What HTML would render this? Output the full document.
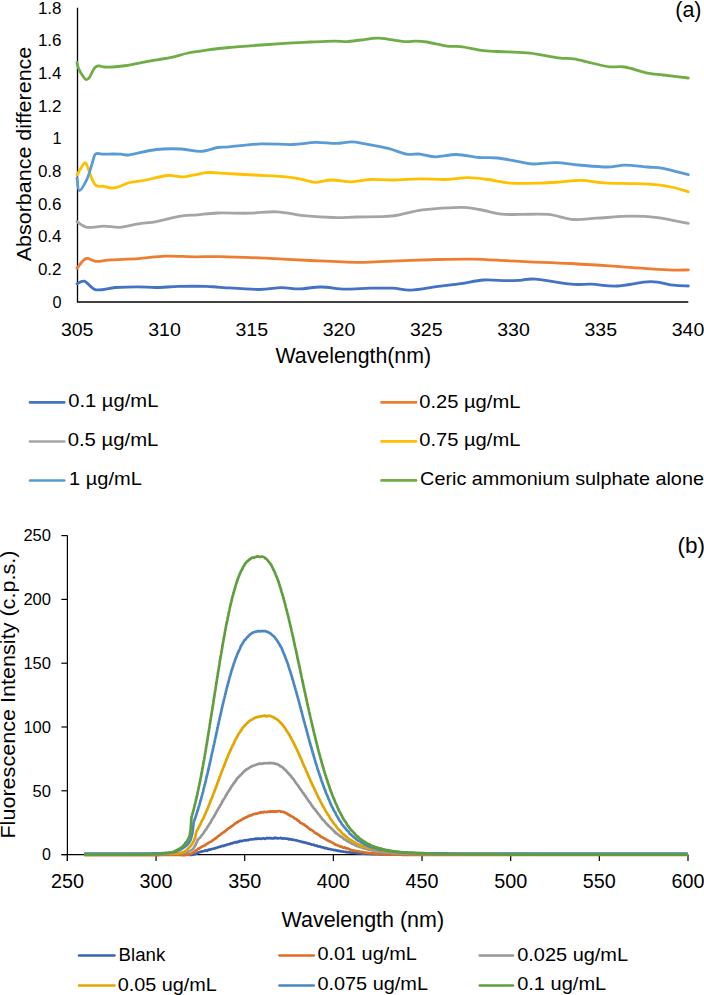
<!DOCTYPE html>
<html><head><meta charset="utf-8"><title>Absorbance and fluorescence spectra</title>
<style>
html,body{margin:0;padding:0;background:#fff;}
body{width:704px;height:995px;overflow:hidden;}
svg{display:block;}
text{font-family:"Liberation Sans", sans-serif;fill:#000;}
</style></head>
<body>
<svg width="704" height="995" viewBox="0 0 704 995">
<rect width="704" height="995" fill="#fff"/>
<line x1="77.50" y1="7.80" x2="77.50" y2="302.00" stroke="#000" stroke-width="1.3"/>
<line x1="76.90" y1="302.00" x2="688.30" y2="302.00" stroke="#000" stroke-width="1.3"/>
<path d="M77.00 283.60 C78.30 283.23 81.62 280.37 84.80 281.40 C87.98 282.43 90.98 288.78 96.10 289.80 C101.22 290.82 108.48 288.00 115.50 287.50 C122.52 287.00 131.38 286.80 138.20 286.80 C145.02 286.80 149.60 287.57 156.40 287.50 C163.20 287.43 170.67 286.58 179.00 286.40 C187.33 286.22 199.57 286.25 206.40 286.40 C213.23 286.55 211.30 286.78 220.00 287.30 C228.70 287.82 248.37 289.43 258.60 289.50 C268.83 289.57 274.58 287.80 281.40 287.70 C288.22 287.60 292.88 289.02 299.50 288.90 C306.12 288.78 313.52 286.97 321.10 287.00 C328.68 287.03 336.85 288.90 345.00 289.10 C353.15 289.30 362.05 288.35 370.00 288.20 C377.95 288.05 385.88 287.87 392.70 288.20 C399.52 288.53 403.32 290.50 410.90 290.20 C418.48 289.90 429.87 287.50 438.20 286.40 C446.53 285.30 453.33 284.67 460.90 283.60 C468.47 282.53 476.02 280.48 483.60 280.00 C491.18 279.52 500.33 280.65 506.40 280.70 C512.47 280.75 515.18 280.57 520.00 280.30 C524.82 280.03 526.78 278.45 535.30 279.10 C543.82 279.75 561.72 283.35 571.10 284.20 C580.48 285.05 583.92 283.90 591.60 284.20 C599.28 284.50 607.40 286.43 617.20 286.00 C627.00 285.57 641.03 281.73 650.40 281.60 C659.77 281.47 667.08 284.47 673.40 285.20 C679.72 285.93 685.82 285.87 688.30 286.00" fill="none" stroke="#4472C4" stroke-width="2.8" stroke-linejoin="round" stroke-linecap="round"/>
<path d="M77.00 268.20 C78.48 266.60 82.72 259.73 85.90 258.60 C89.08 257.47 91.92 261.20 96.10 261.40 C100.28 261.60 103.98 260.27 111.00 259.80 C118.02 259.33 129.12 259.22 138.20 258.60 C147.28 257.98 156.03 256.40 165.50 256.10 C174.97 255.80 185.92 256.72 195.00 256.80 C204.08 256.88 208.25 256.37 220.00 256.60 C231.75 256.83 250.35 257.55 265.50 258.20 C280.65 258.85 295.75 259.82 310.90 260.50 C326.05 261.18 344.88 262.12 356.40 262.30 C367.92 262.48 366.37 262.07 380.00 261.60 C393.63 261.13 422.82 259.92 438.20 259.50 C453.58 259.08 460.93 258.90 472.30 259.10 C483.67 259.30 496.95 260.25 506.40 260.70 C515.85 261.15 518.22 261.33 529.00 261.80 C539.78 262.27 555.55 262.67 571.10 263.50 C586.65 264.33 606.10 265.73 622.30 266.80 C638.50 267.87 657.30 269.38 668.30 269.90 C679.30 270.42 684.97 269.90 688.30 269.90" fill="none" stroke="#ED7D31" stroke-width="2.8" stroke-linejoin="round" stroke-linecap="round"/>
<path d="M77.00 221.60 C78.67 222.55 82.50 226.55 87.00 227.30 C91.50 228.05 98.50 226.10 104.00 226.10 C109.50 226.10 114.30 227.67 120.00 227.30 C125.70 226.93 132.13 224.85 138.20 223.90 C144.27 222.95 149.60 222.85 156.40 221.60 C163.20 220.35 172.18 217.53 179.00 216.40 C185.82 215.27 190.85 215.37 197.30 214.80 C203.75 214.23 209.00 213.27 217.70 213.00 C226.40 212.73 239.65 213.40 249.50 213.20 C259.35 213.00 267.32 211.35 276.80 211.80 C286.28 212.25 296.93 214.95 306.40 215.90 C315.87 216.85 325.27 217.32 333.60 217.50 C341.93 217.68 346.55 217.27 356.40 217.00 C366.25 216.73 381.72 217.10 392.70 215.90 C403.68 214.70 410.93 211.23 422.30 209.80 C433.67 208.37 451.45 207.35 460.90 207.30 C470.35 207.25 472.18 208.37 479.00 209.50 C485.82 210.63 494.97 213.28 501.80 214.10 C508.63 214.92 512.28 214.35 520.00 214.40 C527.72 214.45 539.15 213.55 548.10 214.40 C557.05 215.25 565.60 218.87 573.70 219.50 C581.80 220.13 587.32 218.75 596.70 218.20 C606.08 217.65 620.20 216.33 630.00 216.20 C639.80 216.07 645.78 216.22 655.50 217.40 C665.22 218.58 682.83 222.32 688.30 223.30" fill="none" stroke="#A5A5A5" stroke-width="2.8" stroke-linejoin="round" stroke-linecap="round"/>
<path d="M77.00 175.00 C78.25 172.98 82.62 163.92 84.50 162.90 C86.38 161.88 87.17 166.48 88.30 168.90 C89.43 171.32 90.23 174.85 91.30 177.40 C92.37 179.95 93.57 182.72 94.70 184.20 C95.83 185.68 96.53 185.95 98.10 186.30 C99.67 186.65 101.97 186.02 104.10 186.30 C106.23 186.58 108.63 187.85 110.90 188.00 C113.17 188.15 114.57 188.12 117.70 187.20 C120.83 186.28 125.53 183.58 129.70 182.50 C133.87 181.42 136.37 181.87 142.70 180.70 C149.03 179.53 160.88 176.15 167.70 175.50 C174.52 174.85 177.15 177.27 183.60 176.80 C190.05 176.33 200.33 173.30 206.40 172.70 C212.47 172.10 212.07 172.82 220.00 173.20 C227.93 173.58 243.40 174.43 254.00 175.00 C264.60 175.57 276.02 175.95 283.60 176.60 C291.18 177.25 294.18 177.95 299.50 178.90 C304.82 179.85 310.18 182.12 315.50 182.30 C320.82 182.48 325.35 180.08 331.40 180.00 C337.45 179.92 345.37 181.88 351.80 181.80 C358.23 181.72 363.18 179.80 370.00 179.50 C376.82 179.20 384.37 180.10 392.70 180.00 C401.03 179.90 411.28 178.98 420.00 178.90 C428.72 178.82 437.05 179.70 445.00 179.50 C452.95 179.30 460.50 177.70 467.70 177.70 C474.90 177.70 481.00 178.58 488.20 179.50 C495.40 180.42 502.18 182.60 510.90 183.20 C519.62 183.80 532.17 183.32 540.50 183.10 C548.83 182.88 554.08 182.37 560.90 181.90 C567.72 181.43 574.15 180.13 581.40 180.30 C588.65 180.47 595.88 182.35 604.40 182.90 C612.92 183.45 623.57 183.27 632.50 183.60 C641.43 183.93 651.18 184.25 658.00 184.90 C664.82 185.55 668.35 186.35 673.40 187.50 C678.45 188.65 685.82 191.08 688.30 191.80" fill="none" stroke="#FFC000" stroke-width="2.8" stroke-linejoin="round" stroke-linecap="round"/>
<path d="M77.00 178.00 C77.40 180.10 77.73 190.42 79.40 190.60 C81.07 190.78 85.02 183.15 87.00 179.10 C88.98 175.05 90.02 170.28 91.30 166.30 C92.58 162.32 93.70 157.33 94.70 155.20 C95.70 153.07 95.73 153.67 97.30 153.50 C98.87 153.33 101.55 154.12 104.10 154.20 C106.65 154.28 109.75 154.00 112.60 154.00 C115.45 154.00 118.35 154.07 121.20 154.20 C124.05 154.33 123.83 155.58 129.70 154.80 C135.57 154.02 147.78 150.47 156.40 149.50 C165.02 148.53 174.02 148.68 181.40 149.00 C188.78 149.32 194.65 151.65 200.70 151.40 C206.75 151.15 212.98 148.27 217.70 147.50 C222.42 146.73 221.80 147.40 229.00 146.80 C236.20 146.20 250.28 144.28 260.90 143.90 C271.52 143.52 283.60 144.77 292.70 144.50 C301.80 144.23 308.30 142.48 315.50 142.30 C322.70 142.12 329.85 143.48 335.90 143.40 C341.95 143.32 346.87 141.72 351.80 141.80 C356.73 141.88 359.43 142.80 365.50 143.90 C371.57 145.00 381.38 146.70 388.20 148.40 C395.02 150.10 401.10 153.15 406.40 154.10 C411.70 155.05 415.08 153.65 420.00 154.10 C424.92 154.55 429.83 156.73 435.90 156.80 C441.97 156.87 449.20 154.38 456.40 154.50 C463.60 154.62 472.28 156.92 479.10 157.50 C485.92 158.08 490.48 157.27 497.30 158.00 C504.12 158.73 514.08 160.90 520.00 161.90 C525.92 162.90 526.83 163.87 532.80 164.00 C538.77 164.13 548.13 162.53 555.80 162.70 C563.47 162.87 570.28 164.28 578.80 165.00 C587.32 165.72 599.23 166.97 606.90 167.00 C614.57 167.03 617.98 165.20 624.80 165.20 C631.62 165.20 641.40 166.48 647.80 167.00 C654.20 167.52 656.45 167.02 663.20 168.30 C669.95 169.58 684.12 173.63 688.30 174.70" fill="none" stroke="#5B9BD5" stroke-width="2.8" stroke-linejoin="round" stroke-linecap="round"/>
<path d="M77.00 62.50 C77.27 63.50 77.63 66.25 78.60 68.50 C79.57 70.75 81.53 74.15 82.80 76.00 C84.07 77.85 85.08 79.38 86.20 79.60 C87.32 79.82 88.45 78.65 89.50 77.30 C90.55 75.95 91.58 73.12 92.50 71.50 C93.42 69.88 94.08 68.53 95.00 67.60 C95.92 66.67 97.00 66.12 98.00 65.90 C99.00 65.68 99.98 66.12 101.00 66.30 C102.02 66.48 102.17 66.88 104.10 67.00 C106.03 67.12 108.82 67.25 112.60 67.00 C116.38 66.75 120.65 66.48 126.80 65.50 C132.95 64.52 142.30 62.40 149.50 61.10 C156.70 59.80 163.55 59.05 170.00 57.70 C176.45 56.35 182.13 54.25 188.20 53.00 C194.27 51.75 199.60 51.12 206.40 50.20 C213.20 49.28 219.92 48.37 229.00 47.50 C238.08 46.63 251.03 45.72 260.90 45.00 C270.77 44.28 279.87 43.70 288.20 43.20 C296.53 42.70 303.33 42.35 310.90 42.00 C318.47 41.65 327.53 41.17 333.60 41.10 C339.67 41.03 342.75 41.78 347.30 41.60 C351.85 41.42 355.60 40.57 360.90 40.00 C366.20 39.43 371.90 37.93 379.10 38.20 C386.30 38.47 398.03 41.12 404.10 41.60 C410.17 42.08 411.72 41.03 415.50 41.10 C419.28 41.17 421.50 41.17 426.80 42.00 C432.10 42.83 441.62 45.33 447.30 46.10 C452.98 46.87 454.85 45.83 460.90 46.60 C466.95 47.37 476.02 49.83 483.60 50.70 C491.18 51.57 498.63 51.38 506.40 51.80 C514.17 52.22 521.53 52.20 530.20 53.20 C538.87 54.20 551.15 56.85 558.40 57.80 C565.65 58.75 568.17 58.03 573.70 58.90 C579.23 59.77 585.63 61.68 591.60 63.00 C597.57 64.32 603.97 66.13 609.50 66.80 C615.03 67.47 618.42 65.93 624.80 67.00 C631.18 68.07 641.40 71.87 647.80 73.20 C654.20 74.53 656.45 74.20 663.20 75.00 C669.95 75.80 684.12 77.50 688.30 78.00" fill="none" stroke="#70AD47" stroke-width="2.8" stroke-linejoin="round" stroke-linecap="round"/>
<text x="61.50" y="307.80" font-size="16.30" text-anchor="end" >0</text>
<text x="61.50" y="275.11" font-size="16.30" text-anchor="end" textLength="23.6" lengthAdjust="spacingAndGlyphs">0.2</text>
<text x="61.50" y="242.42" font-size="16.30" text-anchor="end" textLength="23.6" lengthAdjust="spacingAndGlyphs">0.4</text>
<text x="61.50" y="209.73" font-size="16.30" text-anchor="end" textLength="23.6" lengthAdjust="spacingAndGlyphs">0.6</text>
<text x="61.50" y="177.04" font-size="16.30" text-anchor="end" textLength="23.6" lengthAdjust="spacingAndGlyphs">0.8</text>
<text x="61.50" y="144.36" font-size="16.30" text-anchor="end" >1</text>
<text x="61.50" y="111.67" font-size="16.30" text-anchor="end" textLength="23.6" lengthAdjust="spacingAndGlyphs">1.2</text>
<text x="61.50" y="78.98" font-size="16.30" text-anchor="end" textLength="23.6" lengthAdjust="spacingAndGlyphs">1.4</text>
<text x="61.50" y="46.29" font-size="16.30" text-anchor="end" textLength="23.6" lengthAdjust="spacingAndGlyphs">1.6</text>
<text x="61.50" y="13.60" font-size="16.30" text-anchor="end" textLength="23.6" lengthAdjust="spacingAndGlyphs">1.8</text>
<text x="77.20" y="335.60" font-size="18.80" text-anchor="middle" textLength="32.6" lengthAdjust="spacingAndGlyphs">305</text>
<text x="164.46" y="335.60" font-size="18.80" text-anchor="middle" textLength="32.6" lengthAdjust="spacingAndGlyphs">310</text>
<text x="251.71" y="335.60" font-size="18.80" text-anchor="middle" textLength="32.6" lengthAdjust="spacingAndGlyphs">315</text>
<text x="338.97" y="335.60" font-size="18.80" text-anchor="middle" textLength="32.6" lengthAdjust="spacingAndGlyphs">320</text>
<text x="426.23" y="335.60" font-size="18.80" text-anchor="middle" textLength="32.6" lengthAdjust="spacingAndGlyphs">325</text>
<text x="513.49" y="335.60" font-size="18.80" text-anchor="middle" textLength="32.6" lengthAdjust="spacingAndGlyphs">330</text>
<text x="600.74" y="335.60" font-size="18.80" text-anchor="middle" textLength="32.6" lengthAdjust="spacingAndGlyphs">335</text>
<text x="688.00" y="335.60" font-size="18.80" text-anchor="middle" textLength="32.6" lengthAdjust="spacingAndGlyphs">340</text>
<text x="353.30" y="362.60" font-size="21.80" text-anchor="middle" textLength="155.5" lengthAdjust="spacingAndGlyphs">Wavelength(nm)</text>
<text transform="translate(31.4 154) rotate(-90)" x="0" y="0" font-size="21" text-anchor="middle" textLength="214.5" lengthAdjust="spacingAndGlyphs">Absorbance difference</text>
<text x="675.30" y="16.60" font-size="22.50" text-anchor="start" textLength="26.2" lengthAdjust="spacingAndGlyphs">(a)</text>
<line x1="30.00" y1="402.40" x2="64.30" y2="402.40" stroke="#4472C4" stroke-width="2.6" stroke-linecap="round"/>
<text x="68.20" y="407.20" font-size="18.50" text-anchor="start" textLength="90.2" lengthAdjust="spacingAndGlyphs">0.1 µg/mL</text>
<line x1="381.50" y1="402.40" x2="416.00" y2="402.40" stroke="#ED7D31" stroke-width="2.6" stroke-linecap="round"/>
<text x="419.20" y="407.50" font-size="18.50" text-anchor="start" textLength="101.2" lengthAdjust="spacingAndGlyphs">0.25 µg/mL</text>
<line x1="30.00" y1="441.50" x2="64.30" y2="441.50" stroke="#A5A5A5" stroke-width="2.6" stroke-linecap="round"/>
<text x="67.70" y="446.30" font-size="18.50" text-anchor="start" textLength="90.7" lengthAdjust="spacingAndGlyphs">0.5 µg/mL</text>
<line x1="381.50" y1="441.40" x2="416.00" y2="441.40" stroke="#FFC000" stroke-width="2.6" stroke-linecap="round"/>
<text x="419.20" y="446.40" font-size="18.50" text-anchor="start" textLength="101.2" lengthAdjust="spacingAndGlyphs">0.75 µg/mL</text>
<line x1="30.00" y1="480.50" x2="64.30" y2="480.50" stroke="#5B9BD5" stroke-width="2.6" stroke-linecap="round"/>
<text x="69.10" y="485.00" font-size="18.50" text-anchor="start" textLength="72.8" lengthAdjust="spacingAndGlyphs">1 µg/mL</text>
<line x1="381.50" y1="480.40" x2="416.00" y2="480.40" stroke="#70AD47" stroke-width="2.6" stroke-linecap="round"/>
<text x="420.10" y="484.80" font-size="18.50" text-anchor="start" textLength="283.8" lengthAdjust="spacingAndGlyphs">Ceric ammonium sulphate alone</text>
<line x1="67.40" y1="535.60" x2="67.40" y2="861.10" stroke="#000" stroke-width="1.2"/>
<line x1="61.40" y1="854.60" x2="688.00" y2="854.60" stroke="#000" stroke-width="1.2"/>
<line x1="61.40" y1="854.60" x2="67.40" y2="854.60" stroke="#000" stroke-width="1.2"/>
<text x="51.00" y="860.40" font-size="16.00" text-anchor="end" >0</text>
<line x1="61.40" y1="790.80" x2="67.40" y2="790.80" stroke="#000" stroke-width="1.2"/>
<text x="51.00" y="796.60" font-size="16.00" text-anchor="end" textLength="18.4" lengthAdjust="spacingAndGlyphs">50</text>
<line x1="61.40" y1="727.00" x2="67.40" y2="727.00" stroke="#000" stroke-width="1.2"/>
<text x="51.00" y="732.80" font-size="16.00" text-anchor="end" textLength="27.6" lengthAdjust="spacingAndGlyphs">100</text>
<line x1="61.40" y1="663.20" x2="67.40" y2="663.20" stroke="#000" stroke-width="1.2"/>
<text x="51.00" y="669.00" font-size="16.00" text-anchor="end" textLength="27.6" lengthAdjust="spacingAndGlyphs">150</text>
<line x1="61.40" y1="599.40" x2="67.40" y2="599.40" stroke="#000" stroke-width="1.2"/>
<text x="51.00" y="605.20" font-size="16.00" text-anchor="end" textLength="27.6" lengthAdjust="spacingAndGlyphs">200</text>
<line x1="61.40" y1="535.60" x2="67.40" y2="535.60" stroke="#000" stroke-width="1.2"/>
<text x="51.00" y="541.40" font-size="16.00" text-anchor="end" textLength="27.6" lengthAdjust="spacingAndGlyphs">250</text>
<line x1="67.40" y1="854.60" x2="67.40" y2="861.10" stroke="#000" stroke-width="1.2"/>
<text x="67.40" y="888.40" font-size="19.30" text-anchor="middle" textLength="33" lengthAdjust="spacingAndGlyphs">250</text>
<line x1="156.06" y1="854.60" x2="156.06" y2="861.10" stroke="#000" stroke-width="1.2"/>
<text x="156.06" y="888.40" font-size="19.30" text-anchor="middle" textLength="33" lengthAdjust="spacingAndGlyphs">300</text>
<line x1="244.71" y1="854.60" x2="244.71" y2="861.10" stroke="#000" stroke-width="1.2"/>
<text x="244.71" y="888.40" font-size="19.30" text-anchor="middle" textLength="33" lengthAdjust="spacingAndGlyphs">350</text>
<line x1="333.37" y1="854.60" x2="333.37" y2="861.10" stroke="#000" stroke-width="1.2"/>
<text x="333.37" y="888.40" font-size="19.30" text-anchor="middle" textLength="33" lengthAdjust="spacingAndGlyphs">400</text>
<line x1="422.03" y1="854.60" x2="422.03" y2="861.10" stroke="#000" stroke-width="1.2"/>
<text x="422.03" y="888.40" font-size="19.30" text-anchor="middle" textLength="33" lengthAdjust="spacingAndGlyphs">450</text>
<line x1="510.69" y1="854.60" x2="510.69" y2="861.10" stroke="#000" stroke-width="1.2"/>
<text x="510.69" y="888.40" font-size="19.30" text-anchor="middle" textLength="33" lengthAdjust="spacingAndGlyphs">500</text>
<line x1="599.34" y1="854.60" x2="599.34" y2="861.10" stroke="#000" stroke-width="1.2"/>
<text x="599.34" y="888.40" font-size="19.30" text-anchor="middle" textLength="33" lengthAdjust="spacingAndGlyphs">550</text>
<line x1="688.00" y1="854.60" x2="688.00" y2="861.10" stroke="#000" stroke-width="1.2"/>
<text x="688.00" y="888.40" font-size="19.30" text-anchor="middle" textLength="33" lengthAdjust="spacingAndGlyphs">600</text>
<path d="M84.31 854.60 L85.04 854.60 L86.00 854.60 L87.00 854.60 L88.00 854.60 L89.00 854.60 L90.00 854.60 L91.00 854.60 L92.00 854.60 L93.00 854.60 L94.00 854.60 L95.00 854.60 L96.00 854.60 L97.00 854.60 L98.00 854.60 L99.00 854.60 L100.00 854.60 L101.00 854.60 L102.00 854.60 L103.00 854.60 L104.00 854.60 L105.00 854.60 L106.00 854.60 L107.00 854.60 L108.00 854.60 L109.00 854.60 L110.00 854.60 L111.00 854.60 L112.00 854.60 L113.00 854.60 L114.00 854.60 L115.00 854.60 L116.00 854.60 L117.00 854.60 L118.00 854.60 L119.00 854.60 L120.00 854.60 L121.00 854.60 L122.00 854.60 L123.00 854.60 L124.00 854.60 L125.00 854.60 L126.00 854.60 L127.00 854.60 L128.00 854.60 L129.00 854.60 L130.00 854.60 L131.00 854.60 L132.00 854.60 L133.00 854.60 L134.00 854.60 L135.00 854.60 L136.00 854.60 L137.00 854.60 L138.00 854.60 L139.00 854.60 L140.00 854.60 L141.00 854.60 L142.00 854.60 L143.00 854.60 L144.00 854.60 L145.00 854.60 L146.00 854.60 L147.00 854.60 L148.00 854.60 L149.00 854.60 L150.00 854.60 L151.00 854.60 L152.00 854.60 L153.00 854.60 L154.00 854.60 L155.00 854.60 L156.00 854.60 L157.00 854.60 L158.00 854.60 L159.00 854.59 L160.00 854.59 L161.00 854.59 L162.00 854.59 L163.00 854.59 L164.00 854.59 L165.00 854.59 L166.00 854.59 L167.00 854.59 L168.00 854.58 L169.00 854.58 L170.00 854.58 L171.00 854.58 L172.00 854.58 L173.00 854.58 L174.00 854.58 L175.00 854.58 L176.00 854.58 L177.00 854.58 L178.00 854.58 L179.00 854.58 L180.00 854.58 L181.00 854.59 L182.00 854.59 L183.00 854.59 L184.00 854.60 L185.00 854.61 L186.00 854.63 L187.00 854.67 L188.00 854.73 L188.99 854.80 L189.99 854.86 L190.99 854.88 L191.99 854.85 L192.98 854.74 L193.95 854.52 L194.90 854.22 L195.83 853.86 L196.74 853.45 L197.64 853.01 L198.54 852.57 L199.45 852.16 L200.39 851.84 L201.36 851.62 L202.34 851.42 L203.32 851.22 L204.30 851.00 L205.27 850.29 L206.25 850.68 L207.22 850.84 L208.19 849.89 L209.16 849.60 L210.13 849.71 L211.09 849.17 L212.06 848.98 L213.02 848.75 L213.99 848.66 L214.95 848.20 L215.91 848.06 L216.87 847.69 L217.83 847.28 L218.79 847.10 L219.75 846.69 L220.71 846.59 L221.67 846.08 L222.63 845.80 L223.58 846.03 L224.54 845.44 L225.50 845.16 L226.46 844.99 L227.42 844.52 L228.38 844.28 L229.34 844.14 L230.31 843.84 L231.27 843.29 L232.23 843.42 L233.20 842.88 L234.17 842.53 L235.14 842.32 L236.11 842.17 L237.08 842.34 L238.05 841.55 L239.03 841.60 L240.00 840.92 L240.98 841.14 L241.96 841.11 L242.94 840.69 L243.92 840.43 L244.91 840.42 L245.89 840.34 L246.88 840.17 L247.87 840.28 L248.86 839.78 L249.85 839.48 L250.84 839.44 L251.83 839.33 L252.82 839.25 L253.82 839.11 L254.81 839.05 L255.81 838.59 L256.80 839.00 L257.80 838.65 L258.80 838.45 L259.80 838.75 L260.79 838.83 L261.79 838.61 L262.79 838.50 L263.79 838.24 L264.79 838.96 L265.79 838.53 L266.79 838.10 L267.79 838.15 L268.79 838.31 L269.79 837.96 L270.79 838.29 L271.79 838.16 L272.79 838.49 L273.79 838.43 L274.79 837.69 L275.79 838.24 L276.79 837.91 L277.79 838.45 L278.79 838.23 L279.78 838.24 L280.78 837.89 L281.78 838.51 L282.77 838.64 L283.77 838.15 L284.76 838.56 L285.75 838.49 L286.74 838.75 L287.73 838.65 L288.72 839.42 L289.71 839.02 L290.69 839.32 L291.68 839.65 L292.66 839.60 L293.64 839.88 L294.62 840.01 L295.60 840.31 L296.57 840.32 L297.55 840.69 L298.52 840.96 L299.49 841.17 L300.47 841.49 L301.44 841.66 L302.40 842.12 L303.37 842.16 L304.34 842.45 L305.30 842.60 L306.27 842.89 L307.23 843.01 L308.20 843.63 L309.16 843.56 L310.13 843.91 L311.09 844.40 L312.05 844.67 L313.02 844.78 L313.98 844.72 L314.94 845.48 L315.91 845.71 L316.87 845.64 L317.84 846.33 L318.81 846.30 L319.77 846.47 L320.74 846.97 L321.71 847.16 L322.68 847.49 L323.65 847.37 L324.62 848.29 L325.59 848.05 L326.56 848.09 L327.53 848.75 L328.51 848.78 L329.48 849.14 L330.46 849.22 L331.44 849.48 L332.42 849.75 L333.40 849.75 L334.38 850.23 L335.36 850.19 L336.34 850.30 L337.33 850.67 L338.31 850.92 L339.30 850.95 L340.28 851.16 L341.27 851.32 L342.26 851.48 L343.25 851.62 L344.24 851.77 L345.23 851.91 L346.22 852.04 L347.21 852.17 L348.20 852.29 L349.19 852.41 L350.19 852.53 L351.18 852.64 L352.18 852.74 L353.17 852.84 L354.17 852.94 L355.16 853.03 L356.16 853.12 L357.15 853.21 L358.15 853.29 L359.15 853.36 L360.15 853.44 L361.14 853.50 L362.14 853.57 L363.14 853.63 L364.14 853.69 L365.14 853.75 L366.13 853.80 L367.13 853.85 L368.13 853.90 L369.13 853.95 L370.13 853.99 L371.13 854.03 L372.13 854.07 L373.13 854.10 L374.13 854.14 L375.13 854.17 L376.13 854.20 L377.13 854.23 L378.13 854.25 L379.13 854.28 L380.13 854.30 L381.12 854.32 L382.12 854.34 L383.12 854.36 L384.12 854.38 L385.12 854.39 L386.12 854.41 L387.12 854.42 L388.12 854.44 L389.12 854.45 L390.12 854.46 L391.12 854.47 L392.12 854.48 L393.12 854.49 L394.12 854.50 L395.12 854.51 L396.12 854.52 L397.12 854.52 L398.12 854.53 L399.12 854.53 L400.12 854.54 L401.12 854.55 L402.12 854.55 L403.12 854.55 L404.12 854.56 L405.12 854.56 L406.12 854.57 L407.12 854.57 L408.12 854.57 L409.12 854.57 L410.12 854.58 L411.12 854.58 L412.12 854.58 L413.12 854.58 L414.12 854.58 L415.12 854.58 L416.12 854.59 L417.12 854.59 L418.12 854.59 L419.12 854.59 L420.12 854.59 L421.12 854.59 L422.12 854.59 L423.12 854.59 L424.12 854.59 L425.12 854.59 L426.12 854.60 L427.12 854.60 L428.12 854.60 L429.12 854.60 L430.12 854.60 L431.12 854.60 L432.12 854.60 L433.12 854.60 L434.12 854.60 L435.12 854.60 L436.12 854.60 L437.12 854.60 L438.12 854.60 L439.12 854.60 L440.12 854.60 L441.12 854.60 L442.12 854.60 L443.12 854.60 L444.12 854.60 L445.12 854.60 L446.12 854.60 L447.12 854.60 L448.12 854.60 L449.12 854.60 L450.12 854.60 L451.12 854.60 L452.12 854.60 L453.12 854.60 L454.12 854.60 L455.12 854.60 L456.12 854.60 L457.12 854.60 L458.12 854.60 L459.12 854.60 L460.12 854.60 L461.12 854.60 L462.12 854.60 L463.12 854.60 L464.12 854.60 L465.12 854.60 L466.12 854.60 L467.12 854.60 L468.12 854.60 L469.12 854.60 L470.12 854.60 L471.12 854.60 L472.12 854.60 L473.12 854.60 L474.12 854.60 L475.12 854.60 L476.12 854.60 L477.12 854.60 L478.12 854.60 L479.12 854.60 L480.12 854.60 L481.12 854.60 L482.12 854.60 L483.12 854.60 L484.12 854.60 L485.12 854.60 L486.12 854.60 L487.12 854.60 L488.12 854.60 L489.12 854.60 L490.12 854.60 L491.12 854.60 L492.12 854.60 L493.12 854.60 L494.12 854.60 L495.12 854.60 L496.12 854.60 L497.12 854.60 L498.12 854.60 L499.12 854.60 L500.12 854.60 L501.12 854.60 L502.12 854.60 L503.12 854.60 L504.12 854.60 L505.12 854.60 L506.12 854.60 L507.12 854.60 L508.12 854.60 L509.12 854.60 L510.12 854.60 L511.12 854.60 L512.12 854.60 L513.12 854.60 L514.12 854.60 L515.12 854.60 L516.12 854.60 L517.12 854.60 L518.12 854.60 L519.12 854.60 L520.12 854.60 L521.12 854.60 L522.12 854.60 L523.12 854.60 L524.12 854.60 L525.12 854.60 L526.12 854.60 L527.12 854.60 L528.12 854.60 L529.12 854.60 L530.12 854.60 L531.12 854.60 L532.12 854.60 L533.12 854.60 L534.12 854.60 L535.12 854.60 L536.12 854.60 L537.12 854.60 L538.12 854.60 L539.12 854.60 L540.12 854.60 L541.12 854.60 L542.12 854.60 L543.12 854.60 L544.12 854.60 L545.12 854.60 L546.12 854.60 L547.12 854.60 L548.12 854.60 L549.12 854.60 L550.12 854.60 L551.12 854.60 L552.12 854.60 L553.12 854.60 L554.12 854.60 L555.12 854.60 L556.12 854.60 L557.12 854.60 L558.12 854.60 L559.12 854.60 L560.12 854.60 L561.12 854.60 L562.12 854.60 L563.12 854.60 L564.12 854.60 L565.12 854.60 L566.12 854.60 L567.12 854.60 L568.12 854.60 L569.12 854.60 L570.12 854.60 L571.12 854.60 L572.12 854.60 L573.12 854.60 L574.12 854.60 L575.12 854.60 L576.12 854.60 L577.12 854.60 L578.12 854.60 L579.12 854.60 L580.12 854.60 L581.12 854.60 L582.12 854.60 L583.12 854.60 L584.12 854.60 L585.12 854.60 L586.12 854.60 L587.12 854.60 L588.12 854.60 L589.12 854.60 L590.12 854.60 L591.12 854.60 L592.12 854.60 L593.12 854.60 L594.12 854.60 L595.12 854.60 L596.12 854.60 L597.12 854.60 L598.12 854.60 L599.12 854.60 L600.12 854.60 L601.12 854.60 L602.12 854.60 L603.12 854.60 L604.12 854.60 L605.12 854.60 L606.12 854.60 L607.12 854.60 L608.12 854.60 L609.12 854.60 L610.12 854.60 L611.12 854.60 L612.12 854.60 L613.12 854.60 L614.12 854.60 L615.12 854.60 L616.12 854.60 L617.12 854.60 L618.12 854.60 L619.12 854.60 L620.12 854.60 L621.12 854.60 L622.12 854.60 L623.12 854.60 L624.12 854.60 L625.12 854.60 L626.12 854.60 L627.12 854.60 L628.12 854.60 L629.12 854.60 L630.12 854.60 L631.12 854.60 L632.12 854.60 L633.12 854.60 L634.12 854.60 L635.12 854.60 L636.12 854.60 L637.12 854.60 L638.12 854.60 L639.12 854.60 L640.12 854.60 L641.12 854.60 L642.12 854.60 L643.12 854.60 L644.12 854.60 L645.12 854.60 L646.12 854.60 L647.12 854.60 L648.12 854.60 L649.12 854.60 L650.12 854.60 L651.12 854.60 L652.12 854.60 L653.12 854.60 L654.12 854.60 L655.12 854.60 L656.12 854.60 L657.12 854.60 L658.12 854.60 L659.12 854.60 L660.12 854.60 L661.12 854.60 L662.12 854.60 L663.12 854.60 L664.12 854.60 L665.12 854.60 L666.12 854.60 L667.12 854.60 L668.12 854.60 L669.12 854.60 L670.12 854.60 L671.12 854.60 L672.12 854.60 L673.12 854.60 L674.12 854.60 L675.12 854.60 L676.12 854.60 L677.12 854.60 L678.12 854.60 L679.12 854.60 L680.12 854.60 L681.12 854.60 L682.12 854.60 L683.12 854.60 L684.12 854.60 L685.12 854.60 L686.12 854.60 L687.07 854.60 L687.74 854.60" fill="none" stroke="#3A63B3" stroke-width="2.7" stroke-linejoin="round"/>
<path d="M84.31 855.20 L85.04 855.20 L86.00 855.20 L87.00 855.20 L88.00 855.19 L89.00 855.19 L90.00 855.19 L91.00 855.19 L92.00 855.19 L93.00 855.19 L94.00 855.19 L95.00 855.19 L96.00 855.19 L97.00 855.18 L98.00 855.18 L99.00 855.18 L100.00 855.18 L101.00 855.18 L102.00 855.18 L103.00 855.18 L104.00 855.18 L105.00 855.18 L106.00 855.18 L107.00 855.18 L108.00 855.18 L109.00 855.17 L110.00 855.17 L111.00 855.17 L112.00 855.17 L113.00 855.17 L114.00 855.17 L115.00 855.17 L116.00 855.17 L117.00 855.17 L118.00 855.17 L119.00 855.17 L120.00 855.16 L121.00 855.16 L122.00 855.16 L123.00 855.16 L124.00 855.16 L125.00 855.16 L126.00 855.16 L127.00 855.16 L128.00 855.15 L129.00 855.15 L130.00 855.15 L131.00 855.15 L132.00 855.15 L133.00 855.15 L134.00 855.15 L135.00 855.14 L136.00 855.14 L137.00 855.14 L138.00 855.14 L139.00 855.14 L140.00 855.13 L141.00 855.13 L142.00 855.13 L143.00 855.12 L144.00 855.12 L145.00 855.12 L146.00 855.12 L147.00 855.11 L148.00 855.11 L149.00 855.10 L150.00 855.10 L151.00 855.10 L152.00 855.09 L153.00 855.08 L154.00 855.08 L155.00 855.07 L156.00 855.06 L157.00 855.06 L158.00 855.05 L159.00 855.04 L160.00 855.03 L161.00 855.02 L162.00 855.01 L163.00 855.00 L164.00 854.99 L165.00 854.98 L166.00 854.97 L167.00 854.96 L168.00 854.95 L169.00 854.95 L170.00 854.94 L171.00 854.93 L172.00 854.92 L173.00 854.91 L174.00 854.91 L175.00 854.90 L176.00 854.90 L177.00 854.90 L178.00 854.91 L179.00 854.93 L180.00 854.96 L181.00 855.01 L181.99 855.07 L182.99 855.12 L183.99 855.14 L184.99 855.11 L185.98 855.02 L186.97 854.86 L187.95 854.65 L188.91 854.40 L189.87 854.11 L190.81 853.77 L191.73 853.39 L192.64 852.97 L193.52 852.50 L194.36 851.96 L195.17 851.38 L195.95 850.36 L196.72 850.29 L197.47 849.42 L198.24 848.62 L199.05 848.57 L199.92 847.92 L200.82 847.34 L201.72 846.74 L202.61 846.42 L203.49 845.93 L204.37 845.63 L205.24 845.16 L206.11 844.37 L206.97 843.88 L207.83 843.37 L208.67 842.67 L209.52 842.29 L210.36 841.85 L211.19 841.45 L212.02 841.02 L212.85 840.03 L213.67 839.73 L214.49 838.96 L215.30 838.88 L216.11 837.87 L216.92 837.39 L217.72 836.51 L218.53 835.94 L219.33 835.54 L220.13 834.82 L220.92 834.36 L221.72 833.38 L222.51 833.22 L223.31 832.30 L224.10 832.21 L224.90 831.20 L225.69 830.88 L226.49 829.77 L227.29 829.53 L228.09 828.67 L228.89 828.15 L229.69 827.65 L230.49 826.99 L231.30 826.52 L232.11 826.03 L232.92 825.43 L233.74 824.70 L234.56 823.88 L235.39 823.43 L236.22 822.99 L237.05 822.06 L237.89 822.09 L238.74 821.36 L239.59 820.83 L240.45 820.55 L241.31 819.99 L242.18 819.41 L243.06 818.68 L243.94 818.47 L244.83 818.02 L245.72 817.33 L246.62 817.28 L247.53 816.76 L248.45 815.86 L249.37 815.89 L250.30 815.24 L251.23 815.37 L252.17 814.97 L253.12 814.26 L254.07 814.01 L255.03 813.92 L256.00 813.58 L256.97 813.69 L257.94 813.30 L258.91 812.88 L259.90 812.86 L260.88 812.16 L261.87 812.46 L262.86 812.43 L263.85 812.09 L264.84 811.87 L265.83 812.02 L266.83 812.22 L267.83 811.79 L268.83 811.47 L269.83 811.93 L270.82 811.23 L271.82 811.67 L272.82 811.43 L273.82 811.72 L274.82 811.36 L275.82 811.79 L276.82 811.57 L277.82 811.13 L278.82 811.01 L279.81 811.28 L280.81 811.63 L281.80 811.53 L282.76 811.76 L283.71 812.02 L284.63 812.59 L285.54 812.94 L286.43 813.37 L287.31 813.59 L288.18 814.51 L289.05 815.05 L289.91 815.03 L290.77 816.27 L291.62 816.48 L292.46 816.77 L293.31 817.02 L294.14 818.08 L294.98 818.61 L295.81 818.93 L296.64 819.25 L297.47 820.39 L298.29 820.62 L299.11 821.21 L299.93 822.45 L300.75 822.88 L301.57 823.22 L302.38 823.52 L303.19 824.33 L304.01 824.32 L304.82 825.39 L305.63 825.80 L306.44 826.28 L307.25 826.80 L308.06 827.81 L308.88 828.30 L309.69 828.90 L310.50 829.62 L311.32 829.86 L312.13 830.36 L312.95 830.82 L313.77 831.68 L314.60 832.47 L315.42 832.86 L316.25 833.57 L317.08 833.77 L317.91 834.46 L318.75 834.95 L319.59 835.40 L320.43 836.56 L321.28 836.89 L322.13 837.10 L322.98 837.62 L323.84 838.27 L324.70 838.51 L325.56 839.38 L326.43 839.53 L327.30 840.21 L328.18 840.55 L329.06 841.14 L329.95 841.43 L330.84 841.84 L331.73 842.41 L332.63 842.91 L333.53 843.42 L334.44 843.91 L335.35 844.62 L336.26 844.88 L337.18 845.06 L338.10 845.64 L339.03 845.73 L339.96 846.53 L340.89 846.71 L341.83 846.67 L342.77 847.43 L343.72 847.77 L344.66 847.39 L345.61 848.09 L346.57 848.44 L347.53 848.44 L348.49 848.90 L349.45 849.19 L350.41 849.74 L351.38 849.95 L352.35 850.66 L353.32 850.29 L354.30 850.83 L355.27 850.83 L356.25 851.02 L357.23 851.22 L358.21 851.42 L359.19 851.60 L360.18 851.78 L361.16 851.95 L362.15 852.11 L363.14 852.26 L364.13 852.41 L365.12 852.55 L366.11 852.69 L367.10 852.81 L368.09 852.94 L369.09 853.05 L370.08 853.16 L371.07 853.27 L372.07 853.37 L373.07 853.46 L374.06 853.55 L375.06 853.64 L376.05 853.72 L377.05 853.80 L378.05 853.87 L379.05 853.94 L380.04 854.00 L381.04 854.06 L382.04 854.12 L383.04 854.18 L384.04 854.23 L385.04 854.28 L386.04 854.32 L387.03 854.37 L388.03 854.41 L389.03 854.45 L390.03 854.48 L391.03 854.52 L392.03 854.55 L393.03 854.58 L394.03 854.61 L395.03 854.63 L396.03 854.66 L397.03 854.68 L398.03 854.70 L399.03 854.73 L400.03 854.74 L401.03 854.76 L402.03 854.78 L403.03 854.79 L404.03 854.81 L405.03 854.82 L406.03 854.84 L407.03 854.85 L408.03 854.86 L409.03 854.87 L410.03 854.88 L411.03 854.89 L412.03 854.90 L413.03 854.90 L414.03 854.91 L415.03 854.92 L416.03 854.92 L417.03 854.93 L418.03 854.94 L419.03 854.94 L420.03 854.94 L421.03 854.95 L422.03 854.95 L423.03 854.96 L424.03 854.96 L425.03 854.96 L426.03 854.97 L427.03 854.97 L428.03 854.97 L429.03 854.97 L430.03 854.98 L431.03 854.98 L432.03 854.98 L433.03 854.98 L434.03 854.98 L435.03 854.98 L436.03 854.99 L437.03 854.99 L438.03 854.99 L439.03 854.99 L440.03 854.99 L441.03 854.99 L442.03 854.99 L443.03 854.99 L444.03 854.99 L445.03 854.99 L446.03 854.99 L447.03 854.99 L448.03 855.00 L449.03 855.00 L450.03 855.00 L451.03 855.00 L452.03 855.00 L453.03 855.00 L454.03 855.00 L455.03 855.00 L456.03 855.00 L457.03 855.00 L458.03 855.00 L459.03 855.00 L460.03 855.00 L461.03 855.00 L462.03 855.00 L463.03 855.00 L464.03 855.00 L465.03 855.00 L466.03 855.00 L467.03 855.00 L468.03 855.00 L469.03 855.00 L470.03 855.00 L471.03 855.00 L472.03 855.00 L473.03 855.00 L474.03 855.00 L475.03 855.00 L476.03 855.00 L477.03 855.00 L478.03 855.00 L479.03 855.00 L480.03 855.00 L481.03 855.00 L482.03 855.00 L483.03 855.00 L484.03 855.00 L485.03 855.00 L486.03 855.00 L487.03 855.00 L488.03 855.00 L489.03 855.00 L490.03 855.00 L491.03 855.00 L492.03 855.00 L493.03 855.00 L494.03 855.00 L495.03 855.00 L496.03 855.00 L497.03 855.00 L498.03 855.00 L499.03 855.00 L500.03 855.00 L501.03 855.00 L502.03 855.00 L503.03 855.00 L504.03 855.00 L505.03 855.00 L506.03 855.00 L507.03 855.00 L508.03 855.00 L509.03 855.00 L510.03 855.00 L511.03 855.00 L512.03 855.00 L513.03 855.00 L514.03 855.00 L515.03 855.00 L516.03 855.00 L517.03 855.00 L518.03 855.00 L519.03 855.00 L520.03 855.00 L521.03 855.00 L522.03 855.00 L523.03 855.00 L524.03 855.00 L525.03 855.00 L526.03 855.00 L527.03 855.00 L528.03 855.00 L529.03 855.00 L530.03 855.00 L531.03 855.00 L532.03 855.00 L533.03 855.00 L534.03 855.00 L535.03 855.00 L536.03 855.00 L537.03 855.00 L538.03 855.00 L539.03 855.00 L540.03 855.00 L541.03 855.00 L542.03 855.00 L543.03 855.00 L544.03 855.00 L545.03 855.00 L546.03 855.00 L547.03 855.00 L548.03 855.00 L549.03 855.00 L550.03 855.00 L551.03 855.00 L552.03 855.00 L553.03 855.00 L554.03 855.00 L555.03 855.00 L556.03 855.00 L557.03 855.00 L558.03 855.00 L559.03 855.00 L560.03 855.00 L561.03 855.00 L562.03 855.00 L563.03 855.00 L564.03 855.00 L565.03 855.00 L566.03 855.00 L567.03 855.00 L568.03 855.00 L569.03 855.00 L570.03 855.00 L571.03 855.00 L572.03 855.00 L573.03 855.00 L574.03 855.00 L575.03 855.00 L576.03 855.00 L577.03 855.00 L578.03 855.00 L579.03 855.00 L580.03 855.00 L581.03 855.00 L582.03 855.00 L583.03 855.00 L584.03 855.00 L585.03 855.00 L586.03 855.00 L587.03 855.00 L588.03 855.00 L589.03 855.00 L590.03 855.00 L591.03 855.00 L592.03 855.00 L593.03 855.00 L594.03 855.00 L595.03 855.00 L596.03 855.00 L597.03 855.00 L598.03 855.00 L599.03 855.00 L600.03 855.00 L601.03 855.00 L602.03 855.00 L603.03 855.00 L604.03 855.00 L605.03 855.00 L606.03 855.00 L607.03 855.00 L608.03 855.00 L609.03 855.00 L610.03 855.00 L611.03 855.00 L612.03 855.00 L613.03 855.00 L614.03 855.00 L615.03 855.00 L616.03 855.00 L617.03 855.00 L618.03 855.00 L619.03 855.00 L620.03 855.00 L621.03 855.00 L622.03 855.00 L623.03 855.00 L624.03 855.00 L625.03 855.00 L626.03 855.00 L627.03 855.00 L628.03 855.00 L629.03 855.00 L630.03 855.00 L631.03 855.00 L632.03 855.00 L633.03 855.00 L634.03 855.00 L635.03 855.00 L636.03 855.00 L637.03 855.00 L638.03 855.00 L639.03 855.00 L640.03 855.00 L641.03 855.00 L642.03 855.00 L643.03 855.00 L644.03 855.00 L645.03 855.00 L646.03 855.00 L647.03 855.00 L648.03 855.00 L649.03 855.00 L650.03 855.00 L651.03 855.00 L652.03 855.00 L653.03 855.00 L654.03 855.00 L655.03 855.00 L656.03 855.00 L657.03 855.00 L658.03 855.00 L659.03 855.00 L660.03 855.00 L661.03 855.00 L662.03 855.00 L663.03 855.00 L664.03 855.00 L665.03 855.00 L666.03 855.00 L667.03 855.00 L668.03 855.00 L669.03 855.00 L670.03 855.00 L671.03 855.00 L672.03 855.00 L673.03 855.00 L674.03 855.00 L675.03 855.00 L676.03 855.00 L677.03 855.00 L678.03 855.00 L679.03 855.00 L680.03 855.00 L681.03 855.00 L682.03 855.00 L683.03 855.00 L684.03 855.00 L685.03 855.00 L686.03 855.00 L686.99 855.00 L687.70 855.00" fill="none" stroke="#DB6D25" stroke-width="2.7" stroke-linejoin="round"/>
<path d="M84.31 854.20 L85.04 854.20 L86.00 854.20 L87.00 854.20 L88.00 854.20 L89.00 854.19 L90.00 854.19 L91.00 854.19 L92.00 854.19 L93.00 854.19 L94.00 854.19 L95.00 854.19 L96.00 854.19 L97.00 854.19 L98.00 854.19 L99.00 854.19 L100.00 854.20 L101.00 854.20 L102.00 854.20 L103.00 854.20 L104.00 854.20 L105.00 854.20 L106.00 854.20 L107.00 854.20 L108.00 854.20 L109.00 854.20 L110.00 854.20 L111.00 854.20 L112.00 854.20 L113.00 854.20 L114.00 854.20 L115.00 854.20 L116.00 854.20 L117.00 854.20 L118.00 854.20 L119.00 854.21 L120.00 854.21 L121.00 854.21 L122.00 854.21 L123.00 854.20 L124.00 854.20 L125.00 854.20 L126.00 854.20 L127.00 854.20 L128.00 854.20 L129.00 854.20 L130.00 854.20 L131.00 854.20 L132.00 854.20 L133.00 854.19 L134.00 854.19 L135.00 854.19 L136.00 854.19 L137.00 854.18 L138.00 854.18 L139.00 854.18 L140.00 854.17 L141.00 854.17 L142.00 854.16 L143.00 854.16 L144.00 854.15 L145.00 854.14 L146.00 854.14 L147.00 854.13 L148.00 854.12 L149.00 854.11 L150.00 854.10 L151.00 854.09 L152.00 854.08 L153.00 854.08 L154.00 854.07 L155.00 854.07 L156.00 854.07 L157.00 854.07 L158.00 854.07 L159.00 854.07 L160.00 854.07 L161.00 854.07 L162.00 854.07 L163.00 854.06 L164.00 854.06 L165.00 854.05 L166.00 854.03 L167.00 854.02 L168.00 853.99 L169.00 853.96 L170.00 853.92 L171.00 853.88 L172.00 853.82 L172.99 853.76 L173.99 853.68 L174.99 853.60 L175.98 853.51 L176.98 853.42 L177.98 853.34 L178.97 853.25 L179.97 853.16 L180.96 853.06 L181.96 852.96 L182.95 852.84 L183.94 852.70 L184.93 852.54 L185.91 852.36 L186.88 852.14 L187.85 851.87 L188.79 851.55 L189.71 851.15 L190.58 850.78 L191.41 850.17 L192.18 850.00 L192.89 849.09 L193.55 848.34 L194.17 846.85 L194.74 846.37 L195.25 845.46 L195.69 844.79 L196.08 843.31 L196.44 843.07 L196.79 842.11 L197.17 840.72 L197.67 839.93 L198.28 839.19 L198.94 838.61 L199.60 837.97 L200.24 837.49 L200.88 836.26 L201.50 835.68 L202.12 834.77 L202.72 834.29 L203.32 833.29 L203.91 832.60 L204.49 831.30 L205.07 830.66 L205.63 829.71 L206.20 829.35 L206.75 828.35 L207.30 827.32 L207.85 826.45 L208.39 825.80 L208.92 824.72 L209.45 823.82 L209.98 823.25 L210.50 822.80 L211.02 821.40 L211.53 820.48 L212.04 819.50 L212.55 818.60 L213.06 818.11 L213.56 817.31 L214.06 816.28 L214.56 815.48 L215.06 814.57 L215.55 813.70 L216.05 812.50 L216.54 811.85 L217.03 811.09 L217.53 810.04 L218.02 809.23 L218.51 808.29 L219.00 807.52 L219.49 806.88 L219.98 805.76 L220.47 804.94 L220.96 804.26 L221.45 803.36 L221.95 802.70 L222.44 801.07 L222.94 800.79 L223.43 799.66 L223.93 798.91 L224.43 798.19 L224.94 797.37 L225.44 796.50 L225.95 795.46 L226.46 794.89 L226.98 793.66 L227.50 792.83 L228.02 792.17 L228.54 791.05 L229.07 790.74 L229.61 789.67 L230.15 789.06 L230.69 787.78 L231.24 786.87 L231.80 786.15 L232.36 785.44 L232.93 784.35 L233.50 783.72 L234.08 782.83 L234.67 782.35 L235.27 781.09 L235.88 780.64 L236.49 779.51 L237.12 778.67 L237.75 777.95 L238.40 777.09 L239.05 776.60 L239.72 776.03 L240.40 775.13 L241.09 774.50 L241.80 773.99 L242.52 773.02 L243.25 772.33 L244.00 771.57 L244.76 770.66 L245.54 770.51 L246.34 769.39 L247.15 769.29 L247.97 768.60 L248.82 768.29 L249.68 767.53 L250.55 766.90 L251.44 766.68 L252.34 766.07 L253.26 765.75 L254.19 765.43 L255.13 765.06 L256.08 764.74 L257.05 764.34 L258.02 764.23 L258.99 763.63 L259.98 763.84 L260.96 763.47 L261.95 763.81 L262.95 763.73 L263.94 763.00 L264.94 763.35 L265.94 763.24 L266.94 763.02 L267.94 763.31 L268.94 763.10 L269.94 762.83 L270.94 763.13 L271.94 763.16 L272.94 763.28 L273.92 763.15 L274.90 763.72 L275.86 764.01 L276.81 763.95 L277.73 764.43 L278.64 764.97 L279.52 765.35 L280.37 766.33 L281.21 766.57 L282.02 766.91 L282.81 767.57 L283.58 768.35 L284.33 769.48 L285.07 769.66 L285.79 770.42 L286.49 771.20 L287.18 771.81 L287.86 773.01 L288.53 773.19 L289.19 774.20 L289.84 774.84 L290.48 775.70 L291.11 776.12 L291.74 777.49 L292.36 777.89 L292.97 778.72 L293.58 779.32 L294.18 780.16 L294.78 781.22 L295.37 782.11 L295.96 782.87 L296.55 783.77 L297.13 784.48 L297.71 785.16 L298.29 786.14 L298.86 786.91 L299.44 787.59 L300.01 788.57 L300.58 789.50 L301.15 790.11 L301.72 790.82 L302.29 791.86 L302.86 792.91 L303.43 793.32 L303.99 794.16 L304.56 794.98 L305.13 796.07 L305.70 796.28 L306.27 797.54 L306.84 798.53 L307.41 798.95 L307.98 800.23 L308.56 800.86 L309.13 801.46 L309.71 802.43 L310.29 802.89 L310.87 803.90 L311.45 805.19 L312.04 805.46 L312.63 806.82 L313.22 807.24 L313.81 808.26 L314.40 808.87 L315.00 809.22 L315.60 810.35 L316.21 811.30 L316.82 811.82 L317.43 812.58 L318.04 813.71 L318.66 814.29 L319.29 814.86 L319.91 815.84 L320.54 816.93 L321.18 817.43 L321.82 818.48 L322.46 819.37 L323.11 819.83 L323.77 820.35 L324.43 821.07 L325.09 822.07 L325.76 823.00 L326.43 823.61 L327.11 824.40 L327.80 824.93 L328.49 825.80 L329.19 826.36 L329.89 827.10 L330.60 827.61 L331.32 828.26 L332.04 829.16 L332.77 829.72 L333.51 830.43 L334.25 831.43 L335.00 831.93 L335.76 833.19 L336.52 833.44 L337.29 833.77 L338.07 834.68 L338.85 835.21 L339.64 835.62 L340.44 836.58 L341.25 836.79 L342.06 836.92 L342.88 838.26 L343.71 838.54 L344.54 839.51 L345.38 839.63 L346.23 840.05 L347.09 841.11 L347.95 841.10 L348.82 841.85 L349.69 842.58 L350.57 842.79 L351.46 843.21 L352.35 843.69 L353.25 844.28 L354.16 844.37 L355.07 845.07 L355.99 845.46 L356.91 846.20 L357.83 846.04 L358.77 846.29 L359.70 846.97 L360.64 847.09 L361.59 847.55 L362.53 847.84 L363.49 848.35 L364.44 848.28 L365.40 848.67 L366.36 848.45 L367.33 849.04 L368.30 849.78 L369.27 849.58 L370.24 849.80 L371.22 849.92 L372.19 850.49 L373.17 850.61 L374.16 850.53 L375.14 851.09 L376.12 851.13 L377.11 851.30 L378.10 851.46 L379.08 851.61 L380.07 851.75 L381.06 851.89 L382.06 852.02 L383.05 852.15 L384.04 852.26 L385.03 852.38 L386.03 852.48 L387.02 852.58 L388.02 852.68 L389.01 852.77 L390.01 852.85 L391.01 852.94 L392.00 853.01 L393.00 853.09 L394.00 853.15 L395.00 853.22 L396.00 853.28 L396.99 853.34 L397.99 853.39 L398.99 853.44 L399.99 853.49 L400.99 853.54 L401.99 853.58 L402.99 853.62 L403.99 853.66 L404.99 853.69 L405.99 853.73 L406.98 853.76 L407.98 853.79 L408.98 853.81 L409.98 853.84 L410.98 853.86 L411.98 853.89 L412.98 853.91 L413.98 853.93 L414.98 853.95 L415.98 853.96 L416.98 853.98 L417.98 854.00 L418.98 854.01 L419.98 854.02 L420.98 854.04 L421.98 854.05 L422.98 854.06 L423.98 854.07 L424.98 854.08 L425.98 854.09 L426.98 854.10 L427.98 854.10 L428.98 854.11 L429.98 854.12 L430.98 854.12 L431.98 854.13 L432.98 854.13 L433.98 854.14 L434.98 854.14 L435.98 854.15 L436.98 854.15 L437.98 854.16 L438.98 854.16 L439.98 854.16 L440.98 854.17 L441.98 854.17 L442.98 854.17 L443.98 854.17 L444.98 854.18 L445.98 854.18 L446.98 854.18 L447.98 854.18 L448.98 854.18 L449.98 854.18 L450.98 854.18 L451.98 854.19 L452.98 854.19 L453.98 854.19 L454.98 854.19 L455.98 854.19 L456.98 854.19 L457.98 854.19 L458.98 854.19 L459.98 854.19 L460.98 854.19 L461.98 854.19 L462.98 854.19 L463.98 854.20 L464.98 854.20 L465.98 854.20 L466.98 854.20 L467.98 854.20 L468.98 854.20 L469.98 854.20 L470.98 854.20 L471.98 854.20 L472.98 854.20 L473.98 854.20 L474.98 854.20 L475.98 854.20 L476.98 854.20 L477.98 854.20 L478.98 854.20 L479.98 854.20 L480.98 854.20 L481.98 854.20 L482.98 854.20 L483.98 854.20 L484.98 854.20 L485.98 854.20 L486.98 854.20 L487.98 854.20 L488.98 854.20 L489.98 854.20 L490.98 854.20 L491.98 854.20 L492.98 854.20 L493.98 854.20 L494.98 854.20 L495.98 854.20 L496.98 854.20 L497.98 854.20 L498.98 854.20 L499.98 854.20 L500.98 854.20 L501.98 854.20 L502.98 854.20 L503.98 854.20 L504.98 854.20 L505.98 854.20 L506.98 854.20 L507.98 854.20 L508.98 854.20 L509.98 854.20 L510.98 854.20 L511.98 854.20 L512.98 854.20 L513.98 854.20 L514.98 854.20 L515.98 854.20 L516.98 854.20 L517.98 854.20 L518.98 854.20 L519.98 854.20 L520.98 854.20 L521.98 854.20 L522.98 854.20 L523.98 854.20 L524.98 854.20 L525.98 854.20 L526.98 854.20 L527.98 854.20 L528.98 854.20 L529.98 854.20 L530.98 854.20 L531.98 854.20 L532.98 854.20 L533.98 854.20 L534.98 854.20 L535.98 854.20 L536.98 854.20 L537.98 854.20 L538.98 854.20 L539.98 854.20 L540.98 854.20 L541.98 854.20 L542.98 854.20 L543.98 854.20 L544.98 854.20 L545.98 854.20 L546.98 854.20 L547.98 854.20 L548.98 854.20 L549.98 854.20 L550.98 854.20 L551.98 854.20 L552.98 854.20 L553.98 854.20 L554.98 854.20 L555.98 854.20 L556.98 854.20 L557.98 854.20 L558.98 854.20 L559.98 854.20 L560.98 854.20 L561.98 854.20 L562.98 854.20 L563.98 854.20 L564.98 854.20 L565.98 854.20 L566.98 854.20 L567.98 854.20 L568.98 854.20 L569.98 854.20 L570.98 854.20 L571.98 854.20 L572.98 854.20 L573.98 854.20 L574.98 854.20 L575.98 854.20 L576.98 854.20 L577.98 854.20 L578.98 854.20 L579.98 854.20 L580.98 854.20 L581.98 854.20 L582.98 854.20 L583.98 854.20 L584.98 854.20 L585.98 854.20 L586.98 854.20 L587.98 854.20 L588.98 854.20 L589.98 854.20 L590.98 854.20 L591.98 854.20 L592.98 854.20 L593.98 854.20 L594.98 854.20 L595.98 854.20 L596.98 854.20 L597.98 854.20 L598.98 854.20 L599.98 854.20 L600.98 854.20 L601.98 854.20 L602.98 854.20 L603.98 854.20 L604.98 854.20 L605.98 854.20 L606.98 854.20 L607.98 854.20 L608.98 854.20 L609.98 854.20 L610.98 854.20 L611.98 854.20 L612.98 854.20 L613.98 854.20 L614.98 854.20 L615.98 854.20 L616.98 854.20 L617.98 854.20 L618.98 854.20 L619.98 854.20 L620.98 854.20 L621.98 854.20 L622.98 854.20 L623.98 854.20 L624.98 854.20 L625.98 854.20 L626.98 854.20 L627.98 854.20 L628.98 854.20 L629.98 854.20 L630.98 854.20 L631.98 854.20 L632.98 854.20 L633.98 854.20 L634.98 854.20 L635.98 854.20 L636.98 854.20 L637.98 854.20 L638.98 854.20 L639.98 854.20 L640.98 854.20 L641.98 854.20 L642.98 854.20 L643.98 854.20 L644.98 854.20 L645.98 854.20 L646.98 854.20 L647.98 854.20 L648.98 854.20 L649.98 854.20 L650.98 854.20 L651.98 854.20 L652.98 854.20 L653.98 854.20 L654.98 854.20 L655.98 854.20 L656.98 854.20 L657.98 854.20 L658.98 854.20 L659.98 854.20 L660.98 854.20 L661.98 854.20 L662.98 854.20 L663.98 854.20 L664.98 854.20 L665.98 854.20 L666.98 854.20 L667.98 854.20 L668.98 854.20 L669.98 854.20 L670.98 854.20 L671.98 854.20 L672.98 854.20 L673.98 854.20 L674.98 854.20 L675.98 854.20 L676.98 854.20 L677.98 854.20 L678.98 854.20 L679.98 854.20 L680.98 854.20 L681.98 854.20 L682.98 854.20 L683.98 854.20 L684.98 854.20 L685.98 854.20 L686.95 854.20 L687.68 854.20" fill="none" stroke="#979797" stroke-width="2.7" stroke-linejoin="round"/>
<path d="M84.31 854.00 L85.04 854.00 L86.00 854.00 L87.00 854.00 L88.00 854.00 L89.00 854.00 L90.00 853.99 L91.00 853.99 L92.00 853.99 L93.00 853.99 L94.00 853.99 L95.00 854.00 L96.00 854.00 L97.00 854.00 L98.00 854.00 L99.00 854.00 L100.00 854.00 L101.00 854.00 L102.00 854.00 L103.00 854.00 L104.00 854.00 L105.00 854.00 L106.00 854.00 L107.00 854.00 L108.00 854.01 L109.00 854.01 L110.00 854.01 L111.00 854.01 L112.00 854.01 L113.00 854.01 L114.00 854.01 L115.00 854.01 L116.00 854.01 L117.00 854.01 L118.00 854.01 L119.00 854.01 L120.00 854.02 L121.00 854.02 L122.00 854.02 L123.00 854.02 L124.00 854.02 L125.00 854.02 L126.00 854.02 L127.00 854.01 L128.00 854.01 L129.00 854.01 L130.00 854.01 L131.00 854.01 L132.00 854.01 L133.00 854.01 L134.00 854.00 L135.00 854.00 L136.00 854.00 L137.00 854.00 L138.00 853.99 L139.00 853.99 L140.00 853.98 L141.00 853.98 L142.00 853.97 L143.00 853.97 L144.00 853.96 L145.00 853.95 L146.00 853.94 L147.00 853.93 L148.00 853.92 L149.00 853.91 L150.00 853.90 L151.00 853.89 L152.00 853.87 L153.00 853.86 L154.00 853.85 L155.00 853.83 L156.00 853.82 L157.00 853.80 L158.00 853.78 L159.00 853.76 L160.00 853.74 L161.00 853.72 L162.00 853.70 L163.00 853.67 L164.00 853.64 L165.00 853.61 L166.00 853.57 L167.00 853.54 L167.99 853.49 L168.99 853.45 L169.99 853.40 L170.99 853.36 L171.99 853.34 L172.99 853.32 L173.99 853.31 L174.99 853.30 L175.99 853.28 L176.99 853.25 L177.99 853.21 L178.99 853.14 L179.98 853.03 L180.96 852.87 L181.94 852.64 L182.88 852.32 L183.79 851.92 L184.66 851.43 L185.48 851.08 L186.27 850.40 L187.02 849.66 L187.75 849.07 L188.47 848.11 L189.18 847.61 L189.86 846.49 L190.50 846.28 L191.12 845.24 L191.70 844.45 L192.26 843.70 L192.79 842.73 L193.28 841.82 L193.75 841.22 L194.18 840.11 L194.56 838.98 L194.90 838.31 L195.18 836.92 L195.41 836.62 L195.61 835.28 L195.80 834.34 L195.98 833.80 L196.19 832.80 L196.47 831.44 L196.88 830.64 L197.37 829.86 L197.87 829.12 L198.36 827.89 L198.85 827.06 L199.33 826.40 L199.80 825.33 L200.26 824.54 L200.72 823.63 L201.17 822.38 L201.62 821.55 L202.06 820.29 L202.50 819.87 L202.93 819.29 L203.36 817.89 L203.78 817.45 L204.20 816.50 L204.61 815.38 L205.02 814.47 L205.42 813.58 L205.83 812.47 L206.22 811.67 L206.62 810.80 L207.01 810.01 L207.40 809.13 L207.79 807.90 L208.17 807.29 L208.55 806.04 L208.93 805.24 L209.31 804.42 L209.68 803.41 L210.05 802.46 L210.42 801.61 L210.79 800.52 L211.16 799.57 L211.52 798.73 L211.89 798.03 L212.25 796.89 L212.61 796.35 L212.97 795.08 L213.32 793.51 L213.68 793.08 L214.04 792.57 L214.39 791.30 L214.75 790.28 L215.10 789.26 L215.45 788.76 L215.80 787.76 L216.16 786.76 L216.51 785.77 L216.86 785.04 L217.21 783.98 L217.56 782.63 L217.91 782.10 L218.26 781.04 L218.61 780.05 L218.96 779.28 L219.31 778.20 L219.66 776.67 L220.02 776.63 L220.37 775.59 L220.72 774.43 L221.07 773.44 L221.43 772.63 L221.78 771.39 L222.14 770.77 L222.49 769.73 L222.85 768.77 L223.21 767.72 L223.57 766.84 L223.93 766.27 L224.30 765.38 L224.66 764.28 L225.03 763.24 L225.40 762.15 L225.77 761.54 L226.14 760.79 L226.51 759.21 L226.89 758.84 L227.27 757.25 L227.65 756.69 L228.03 755.91 L228.42 754.64 L228.81 753.69 L229.20 753.11 L229.60 752.33 L230.00 751.14 L230.40 750.59 L230.81 749.25 L231.22 748.85 L231.63 747.61 L232.05 746.73 L232.47 745.90 L232.90 744.94 L233.34 744.34 L233.78 743.51 L234.22 742.29 L234.67 741.25 L235.13 740.16 L235.59 739.36 L236.06 738.63 L236.54 737.73 L237.02 736.86 L237.52 736.00 L238.02 735.24 L238.53 734.01 L239.05 733.22 L239.58 732.80 L240.13 731.91 L240.68 730.80 L241.24 730.34 L241.82 729.13 L242.41 728.41 L243.02 727.30 L243.64 727.05 L244.28 726.10 L244.93 725.56 L245.60 724.75 L246.29 723.90 L247.00 723.21 L247.73 722.73 L248.48 721.80 L249.25 721.17 L250.04 720.60 L250.85 720.17 L251.69 719.65 L252.55 719.34 L253.43 718.47 L254.33 718.31 L255.25 717.53 L256.19 717.43 L257.14 717.03 L258.10 717.09 L259.08 716.64 L260.06 716.24 L261.05 716.30 L262.04 716.14 L263.04 715.92 L264.03 715.87 L265.03 715.70 L266.03 716.42 L267.03 715.89 L268.03 716.07 L269.03 715.72 L270.01 715.88 L270.98 716.30 L271.94 716.59 L272.87 717.14 L273.78 717.19 L274.67 717.96 L275.52 718.67 L276.36 718.74 L277.16 719.69 L277.94 719.94 L278.70 720.86 L279.43 721.54 L280.14 722.52 L280.83 722.76 L281.50 723.67 L282.16 724.60 L282.79 724.93 L283.41 725.95 L284.01 726.57 L284.61 727.41 L285.18 728.51 L285.75 729.33 L286.30 730.54 L286.85 731.14 L287.38 731.97 L287.91 732.53 L288.42 733.36 L288.93 734.31 L289.43 734.69 L289.93 736.35 L290.41 736.75 L290.89 737.55 L291.37 738.55 L291.84 739.70 L292.30 740.66 L292.76 741.22 L293.21 742.28 L293.67 743.07 L294.11 743.78 L294.55 744.91 L294.99 745.78 L295.43 746.36 L295.86 747.79 L296.29 748.16 L296.72 749.43 L297.14 750.08 L297.56 751.03 L297.98 751.96 L298.40 753.15 L298.81 753.67 L299.22 754.79 L299.64 756.05 L300.05 756.51 L300.45 757.56 L300.86 758.61 L301.27 759.28 L301.67 760.40 L302.08 761.09 L302.48 762.28 L302.88 763.07 L303.28 763.78 L303.68 765.17 L304.08 765.78 L304.48 766.66 L304.88 767.45 L305.28 768.46 L305.68 769.45 L306.08 770.42 L306.48 771.52 L306.88 771.95 L307.28 773.06 L307.68 774.29 L308.09 775.00 L308.49 775.96 L308.89 777.11 L309.29 777.78 L309.70 778.72 L310.10 779.53 L310.51 780.81 L310.91 781.58 L311.32 782.14 L311.73 783.30 L312.14 783.87 L312.55 785.23 L312.97 786.06 L313.38 786.80 L313.80 787.66 L314.22 788.29 L314.64 789.71 L315.06 790.44 L315.49 791.31 L315.92 792.42 L316.34 793.04 L316.78 793.96 L317.21 794.84 L317.65 795.61 L318.09 797.26 L318.53 797.63 L318.98 798.50 L319.42 799.64 L319.88 799.72 L320.33 801.24 L320.79 802.14 L321.25 802.83 L321.72 804.00 L322.19 804.38 L322.66 805.67 L323.14 806.72 L323.62 806.97 L324.11 808.00 L324.60 809.13 L325.09 810.02 L325.59 810.76 L326.10 811.82 L326.61 812.65 L327.12 813.19 L327.65 814.29 L328.17 814.90 L328.71 815.59 L329.25 816.36 L329.79 817.89 L330.34 818.49 L330.90 819.73 L331.47 819.87 L332.04 820.91 L332.62 821.87 L333.21 822.58 L333.80 823.51 L334.41 824.24 L335.02 824.88 L335.64 825.32 L336.27 826.37 L336.90 827.68 L337.55 828.25 L338.20 829.13 L338.87 829.49 L339.54 830.30 L340.23 830.90 L340.92 831.87 L341.62 832.52 L342.34 833.30 L343.06 834.25 L343.80 834.41 L344.54 835.39 L345.30 835.62 L346.06 836.76 L346.84 837.08 L347.63 837.77 L348.42 838.42 L349.23 839.31 L350.05 839.55 L350.88 840.02 L351.71 840.43 L352.56 841.25 L353.42 841.54 L354.28 842.11 L355.16 842.69 L356.04 843.30 L356.93 843.48 L357.83 844.19 L358.74 844.83 L359.65 844.59 L360.57 845.55 L361.50 846.09 L362.43 845.90 L363.37 846.49 L364.31 846.42 L365.26 847.08 L366.21 847.25 L367.17 847.67 L368.13 847.70 L369.09 847.99 L370.06 848.32 L371.03 848.51 L372.00 848.75 L372.98 849.06 L373.95 849.09 L374.93 849.48 L375.92 849.79 L376.90 849.41 L377.88 850.09 L378.87 850.06 L379.86 850.15 L380.85 850.25 L381.84 850.49 L382.83 850.64 L383.82 850.99 L384.81 851.08 L385.81 851.19 L386.80 851.31 L387.79 851.41 L388.79 851.51 L389.78 851.61 L390.78 851.70 L391.78 851.79 L392.77 851.87 L393.77 851.95 L394.77 852.03 L395.76 852.10 L396.76 852.17 L397.76 852.24 L398.76 852.30 L399.75 852.36 L400.75 852.42 L401.75 852.48 L402.75 852.53 L403.75 852.58 L404.75 852.63 L405.75 852.68 L406.75 852.73 L407.74 852.77 L408.74 852.81 L409.74 852.85 L410.74 852.89 L411.74 852.93 L412.74 852.97 L413.74 853.00 L414.74 853.03 L415.74 853.07 L416.74 853.10 L417.74 853.13 L418.74 853.16 L419.74 853.18 L420.74 853.21 L421.74 853.24 L422.74 853.26 L423.74 853.28 L424.74 853.31 L425.74 853.33 L426.73 853.35 L427.73 853.37 L428.73 853.39 L429.73 853.41 L430.73 853.43 L431.73 853.45 L432.73 853.47 L433.73 853.48 L434.73 853.50 L435.73 853.52 L436.73 853.53 L437.73 853.55 L438.73 853.56 L439.73 853.58 L440.73 853.59 L441.73 853.60 L442.73 853.61 L443.73 853.63 L444.73 853.64 L445.73 853.65 L446.73 853.66 L447.73 853.67 L448.73 853.68 L449.73 853.69 L450.73 853.70 L451.73 853.71 L452.73 853.72 L453.73 853.73 L454.73 853.74 L455.73 853.75 L456.73 853.75 L457.73 853.76 L458.73 853.77 L459.73 853.78 L460.73 853.78 L461.73 853.79 L462.73 853.80 L463.73 853.80 L464.73 853.81 L465.73 853.82 L466.73 853.82 L467.73 853.83 L468.73 853.83 L469.73 853.84 L470.73 853.84 L471.73 853.85 L472.73 853.85 L473.73 853.86 L474.73 853.86 L475.73 853.87 L476.73 853.87 L477.73 853.87 L478.73 853.88 L479.73 853.88 L480.73 853.89 L481.73 853.89 L482.73 853.89 L483.73 853.90 L484.73 853.90 L485.73 853.90 L486.73 853.91 L487.73 853.91 L488.73 853.91 L489.73 853.91 L490.73 853.92 L491.73 853.92 L492.73 853.92 L493.73 853.92 L494.73 853.93 L495.73 853.93 L496.73 853.93 L497.73 853.93 L498.73 853.94 L499.73 853.94 L500.73 853.94 L501.73 853.94 L502.73 853.94 L503.73 853.95 L504.73 853.95 L505.73 853.95 L506.73 853.95 L507.73 853.95 L508.73 853.95 L509.73 853.95 L510.73 853.96 L511.73 853.96 L512.73 853.96 L513.73 853.96 L514.73 853.96 L515.73 853.96 L516.73 853.96 L517.73 853.97 L518.73 853.97 L519.73 853.97 L520.73 853.97 L521.73 853.97 L522.73 853.97 L523.73 853.97 L524.73 853.97 L525.73 853.97 L526.73 853.97 L527.73 853.97 L528.73 853.98 L529.73 853.98 L530.73 853.98 L531.73 853.98 L532.73 853.98 L533.73 853.98 L534.73 853.98 L535.73 853.98 L536.73 853.98 L537.73 853.98 L538.73 853.98 L539.73 853.98 L540.73 853.98 L541.73 853.98 L542.73 853.98 L543.73 853.98 L544.73 853.99 L545.73 853.99 L546.73 853.99 L547.73 853.99 L548.73 853.99 L549.73 853.99 L550.73 853.99 L551.73 853.99 L552.73 853.99 L553.73 853.99 L554.73 853.99 L555.73 853.99 L556.73 853.99 L557.73 853.99 L558.73 853.99 L559.73 853.99 L560.73 853.99 L561.73 853.99 L562.73 853.99 L563.73 853.99 L564.73 853.99 L565.73 853.99 L566.73 853.99 L567.73 853.99 L568.73 853.99 L569.73 853.99 L570.73 853.99 L571.73 853.99 L572.73 853.99 L573.73 853.99 L574.73 853.99 L575.73 853.99 L576.73 853.99 L577.73 853.99 L578.73 854.00 L579.73 854.00 L580.73 854.00 L581.73 854.00 L582.73 854.00 L583.73 854.00 L584.73 854.00 L585.73 854.00 L586.73 854.00 L587.73 854.00 L588.73 854.00 L589.73 854.00 L590.73 854.00 L591.73 854.00 L592.73 854.00 L593.73 854.00 L594.73 854.00 L595.73 854.00 L596.73 854.00 L597.73 854.00 L598.73 854.00 L599.73 854.00 L600.73 854.00 L601.73 854.00 L602.73 854.00 L603.73 854.00 L604.73 854.00 L605.73 854.00 L606.73 854.00 L607.73 854.00 L608.73 854.00 L609.73 854.00 L610.73 854.00 L611.73 854.00 L612.73 854.00 L613.73 854.00 L614.73 854.00 L615.73 854.00 L616.73 854.00 L617.73 854.00 L618.73 854.00 L619.73 854.00 L620.73 854.00 L621.73 854.00 L622.73 854.00 L623.73 854.00 L624.73 854.00 L625.73 854.00 L626.73 854.00 L627.73 854.00 L628.73 854.00 L629.73 854.00 L630.73 854.00 L631.73 854.00 L632.73 854.00 L633.73 854.00 L634.73 854.00 L635.73 854.00 L636.73 854.00 L637.73 854.00 L638.73 854.00 L639.73 854.00 L640.73 854.00 L641.73 854.00 L642.73 854.00 L643.73 854.00 L644.73 854.00 L645.73 854.00 L646.73 854.00 L647.73 854.00 L648.73 854.00 L649.73 854.00 L650.73 854.00 L651.73 854.00 L652.73 854.00 L653.73 854.00 L654.73 854.00 L655.73 854.00 L656.73 854.00 L657.73 854.00 L658.73 854.00 L659.73 854.00 L660.73 854.00 L661.73 854.00 L662.73 854.00 L663.73 854.00 L664.73 854.00 L665.73 854.00 L666.73 854.00 L667.73 854.00 L668.73 854.00 L669.73 854.00 L670.73 854.00 L671.73 854.00 L672.73 854.00 L673.73 854.00 L674.73 854.00 L675.73 854.00 L676.73 854.00 L677.73 854.00 L678.73 854.00 L679.73 854.00 L680.73 854.00 L681.73 854.00 L682.73 854.00 L683.73 854.00 L684.73 854.00 L685.73 854.00 L686.71 854.00 L687.52 854.00" fill="none" stroke="#E2A500" stroke-width="2.7" stroke-linejoin="round"/>
<path d="M84.31 853.60 L85.04 853.60 L86.00 853.60 L87.00 853.60 L88.00 853.60 L89.00 853.60 L90.00 853.60 L91.00 853.60 L92.00 853.60 L93.00 853.60 L94.00 853.60 L95.00 853.60 L96.00 853.60 L97.00 853.60 L98.00 853.61 L99.00 853.61 L100.00 853.61 L101.00 853.61 L102.00 853.61 L103.00 853.62 L104.00 853.62 L105.00 853.62 L106.00 853.62 L107.00 853.63 L108.00 853.63 L109.00 853.63 L110.00 853.63 L111.00 853.64 L112.00 853.64 L113.00 853.64 L114.00 853.64 L115.00 853.64 L116.00 853.65 L117.00 853.65 L118.00 853.65 L119.00 853.65 L120.00 853.65 L121.00 853.65 L122.00 853.65 L123.00 853.66 L124.00 853.66 L125.00 853.66 L126.00 853.66 L127.00 853.66 L128.00 853.66 L129.00 853.66 L130.00 853.66 L131.00 853.65 L132.00 853.65 L133.00 853.65 L134.00 853.65 L135.00 853.64 L136.00 853.64 L137.00 853.64 L138.00 853.63 L139.00 853.63 L140.00 853.62 L141.00 853.61 L142.00 853.61 L143.00 853.60 L144.00 853.59 L145.00 853.58 L146.00 853.56 L147.00 853.55 L148.00 853.54 L149.00 853.52 L150.00 853.50 L151.00 853.48 L152.00 853.46 L153.00 853.44 L154.00 853.42 L155.00 853.40 L156.00 853.37 L157.00 853.35 L158.00 853.32 L159.00 853.30 L160.00 853.26 L161.00 853.23 L161.99 853.19 L162.99 853.14 L163.99 853.09 L164.99 853.03 L165.99 852.96 L166.99 852.89 L167.98 852.80 L168.98 852.71 L169.97 852.61 L170.97 852.51 L171.96 852.39 L172.95 852.25 L173.94 852.08 L174.91 851.87 L175.88 851.61 L176.83 851.31 L177.76 850.59 L178.68 850.52 L179.58 850.06 L180.47 849.72 L181.34 849.09 L182.20 848.57 L183.03 847.97 L183.85 847.44 L184.64 846.97 L185.41 846.22 L186.15 845.64 L186.87 845.31 L187.58 844.32 L188.25 843.17 L188.88 843.05 L189.45 841.96 L189.95 840.84 L190.39 840.31 L190.77 839.21 L191.10 838.14 L191.39 837.18 L191.65 836.14 L191.89 835.38 L192.12 834.61 L192.33 833.36 L192.51 832.52 L192.66 831.82 L192.79 830.22 L192.91 829.52 L193.01 828.41 L193.11 827.26 L193.20 826.27 L193.30 825.48 L193.40 824.58 L193.51 823.39 L193.65 822.52 L193.87 821.68 L194.17 820.65 L194.52 819.82 L194.87 818.80 L195.21 817.87 L195.54 817.19 L195.87 816.01 L196.19 814.96 L196.51 814.13 L196.82 812.86 L197.13 812.02 L197.44 811.30 L197.74 810.31 L198.04 809.54 L198.34 808.28 L198.63 807.03 L198.92 806.75 L199.21 805.62 L199.49 804.23 L199.77 803.76 L200.05 802.53 L200.33 801.20 L200.60 800.52 L200.87 799.54 L201.14 798.99 L201.40 797.55 L201.67 796.70 L201.93 795.73 L202.19 794.74 L202.44 793.67 L202.70 792.93 L202.95 792.13 L203.20 791.07 L203.45 789.79 L203.70 788.78 L203.95 788.06 L204.19 786.93 L204.44 785.98 L204.68 784.79 L204.92 784.55 L205.16 783.37 L205.40 782.02 L205.63 781.43 L205.87 780.54 L206.10 778.82 L206.34 778.22 L206.57 777.28 L206.80 776.51 L207.03 775.39 L207.26 774.39 L207.49 773.45 L207.71 772.86 L207.94 771.95 L208.16 770.44 L208.39 769.38 L208.61 769.13 L208.83 767.42 L209.06 766.53 L209.28 765.67 L209.50 764.79 L209.72 763.92 L209.94 762.82 L210.16 761.59 L210.38 760.89 L210.59 759.86 L210.81 759.21 L211.03 757.86 L211.24 756.62 L211.46 755.70 L211.67 755.22 L211.89 753.85 L212.10 752.56 L212.32 751.89 L212.53 751.02 L212.75 750.29 L212.96 748.87 L213.17 748.23 L213.39 747.28 L213.60 746.00 L213.81 745.13 L214.03 744.54 L214.24 743.55 L214.45 742.40 L214.66 741.32 L214.88 740.50 L215.09 739.27 L215.30 738.30 L215.51 737.17 L215.72 736.37 L215.94 735.37 L216.15 734.97 L216.36 733.40 L216.57 732.71 L216.79 731.75 L217.00 730.47 L217.21 729.76 L217.43 728.12 L217.64 727.59 L217.85 726.77 L218.07 725.14 L218.28 724.41 L218.50 723.88 L218.71 722.64 L218.93 721.49 L219.14 720.66 L219.36 719.65 L219.58 718.93 L219.79 717.90 L220.01 716.78 L220.23 715.72 L220.45 714.87 L220.67 714.17 L220.89 713.00 L221.11 712.08 L221.33 710.95 L221.55 709.75 L221.77 708.89 L222.00 708.19 L222.22 707.10 L222.45 705.93 L222.67 704.81 L222.90 704.18 L223.13 703.12 L223.36 702.14 L223.59 701.17 L223.82 700.32 L224.05 699.35 L224.28 698.51 L224.51 697.53 L224.75 696.64 L224.99 695.56 L225.22 694.37 L225.46 693.45 L225.70 692.59 L225.95 691.46 L226.19 690.66 L226.43 689.81 L226.68 688.45 L226.93 687.29 L227.18 686.91 L227.43 685.71 L227.68 684.88 L227.94 683.51 L228.20 683.15 L228.46 681.99 L228.72 680.85 L228.98 679.84 L229.25 678.97 L229.52 677.95 L229.79 676.97 L230.06 675.84 L230.34 675.35 L230.61 674.13 L230.90 673.19 L231.18 672.24 L231.47 670.79 L231.76 670.41 L232.05 669.28 L232.35 668.34 L232.65 667.45 L232.96 666.29 L233.27 665.71 L233.58 664.45 L233.90 663.46 L234.22 662.52 L234.55 661.78 L234.88 660.95 L235.22 659.74 L235.56 658.62 L235.91 658.20 L236.26 656.84 L236.62 656.36 L236.99 655.18 L237.36 654.12 L237.75 653.21 L238.14 652.51 L238.53 651.68 L238.94 650.55 L239.36 649.87 L239.79 649.19 L240.22 647.83 L240.67 646.75 L241.13 645.88 L241.61 644.93 L242.10 644.21 L242.60 643.33 L243.12 642.36 L243.66 641.88 L244.21 640.42 L244.79 639.87 L245.38 639.73 L246.00 638.75 L246.65 637.88 L247.32 637.13 L248.02 636.68 L248.74 635.75 L249.50 635.00 L250.29 634.13 L251.11 633.79 L251.96 633.14 L252.85 632.67 L253.75 632.26 L254.69 632.03 L255.64 631.67 L256.61 631.67 L257.59 631.04 L258.58 631.12 L259.57 631.43 L260.57 630.99 L261.57 631.19 L262.57 631.16 L263.56 631.21 L264.55 631.21 L265.51 631.04 L266.45 631.60 L267.37 631.97 L268.27 632.17 L269.15 632.85 L270.01 633.21 L270.84 633.68 L271.64 634.65 L272.42 635.23 L273.16 635.77 L273.88 636.41 L274.56 637.22 L275.22 638.01 L275.85 638.78 L276.45 639.64 L277.04 640.38 L277.60 641.37 L278.14 642.24 L278.67 643.06 L279.17 643.72 L279.66 644.60 L280.14 645.68 L280.60 646.44 L281.06 647.37 L281.50 647.77 L281.93 648.64 L282.35 650.15 L282.76 651.06 L283.16 652.19 L283.55 652.97 L283.94 653.80 L284.32 654.68 L284.69 655.32 L285.06 656.71 L285.42 657.35 L285.77 658.50 L286.12 659.38 L286.47 660.33 L286.81 661.40 L287.14 662.06 L287.48 663.03 L287.80 663.88 L288.13 664.92 L288.45 666.28 L288.76 666.82 L289.08 668.08 L289.39 668.96 L289.70 669.89 L290.00 670.86 L290.30 671.45 L290.60 672.68 L290.90 673.87 L291.20 674.37 L291.49 675.46 L291.78 676.29 L292.07 677.45 L292.35 678.13 L292.64 679.62 L292.92 680.18 L293.20 680.91 L293.48 682.54 L293.76 683.33 L294.04 684.20 L294.31 685.17 L294.59 685.95 L294.86 686.94 L295.13 688.09 L295.40 689.09 L295.67 690.06 L295.94 690.88 L296.21 691.71 L296.48 692.72 L296.74 693.95 L297.01 694.98 L297.27 695.59 L297.54 696.53 L297.80 697.83 L298.06 698.70 L298.32 699.66 L298.58 700.22 L298.84 701.37 L299.10 702.31 L299.36 703.42 L299.62 704.01 L299.88 705.56 L300.14 706.34 L300.40 707.33 L300.66 707.97 L300.91 709.17 L301.17 710.41 L301.43 710.79 L301.68 712.13 L301.94 713.18 L302.20 713.87 L302.46 715.14 L302.71 715.87 L302.97 717.15 L303.23 717.98 L303.48 718.88 L303.74 720.21 L304.00 720.94 L304.25 722.00 L304.51 722.47 L304.77 723.54 L305.03 724.80 L305.29 725.78 L305.54 726.56 L305.80 727.69 L306.06 728.29 L306.32 729.51 L306.58 730.20 L306.84 731.47 L307.10 732.27 L307.36 733.20 L307.63 734.30 L307.89 735.62 L308.15 736.02 L308.41 737.07 L308.68 738.37 L308.94 739.03 L309.21 740.43 L309.47 741.09 L309.74 742.03 L310.01 743.04 L310.28 744.28 L310.55 745.03 L310.82 745.96 L311.09 746.87 L311.36 747.47 L311.63 748.57 L311.91 750.01 L312.18 750.83 L312.46 751.73 L312.74 752.72 L313.01 753.44 L313.29 754.58 L313.57 755.29 L313.86 756.51 L314.14 757.25 L314.42 758.31 L314.71 759.40 L315.00 760.20 L315.28 761.35 L315.57 762.27 L315.87 763.21 L316.16 764.36 L316.45 764.75 L316.75 765.69 L317.05 767.08 L317.35 768.10 L317.65 769.27 L317.95 769.97 L318.26 770.94 L318.56 771.55 L318.87 772.83 L319.18 773.76 L319.50 774.36 L319.81 775.35 L320.13 776.45 L320.45 777.48 L320.77 777.78 L321.09 779.33 L321.42 780.30 L321.75 781.17 L322.08 782.20 L322.41 783.18 L322.75 783.83 L323.09 785.05 L323.43 785.86 L323.78 786.66 L324.12 787.83 L324.47 789.02 L324.83 789.37 L325.19 790.26 L325.55 791.19 L325.91 792.85 L326.28 793.34 L326.65 794.30 L327.02 795.09 L327.40 795.98 L327.78 796.69 L328.17 798.05 L328.56 798.99 L328.95 799.46 L329.35 800.56 L329.76 801.54 L330.16 802.59 L330.58 803.56 L330.99 804.65 L331.42 805.60 L331.84 806.44 L332.27 807.40 L332.71 807.80 L333.16 808.82 L333.60 810.05 L334.06 810.77 L334.52 811.60 L334.99 812.09 L335.46 812.99 L335.94 814.39 L336.43 815.18 L336.92 815.93 L337.42 816.77 L337.93 817.37 L338.44 818.64 L338.97 819.63 L339.50 820.60 L340.04 821.12 L340.58 821.91 L341.14 822.56 L341.70 823.85 L342.28 824.77 L342.86 825.11 L343.45 826.10 L344.05 826.86 L344.67 827.52 L345.29 827.92 L345.92 829.12 L346.56 830.08 L347.22 830.42 L347.88 831.29 L348.55 831.54 L349.24 833.18 L349.94 833.74 L350.65 834.36 L351.37 834.99 L352.10 835.60 L352.84 836.38 L353.60 836.99 L354.36 837.64 L355.14 838.31 L355.93 838.96 L356.73 839.85 L357.54 839.83 L358.36 840.74 L359.19 841.12 L360.03 841.56 L360.89 841.83 L361.75 842.94 L362.62 843.11 L363.50 843.63 L364.39 844.33 L365.29 844.46 L366.19 845.11 L367.10 845.50 L368.02 846.06 L368.95 846.48 L369.88 846.47 L370.82 847.17 L371.76 847.30 L372.71 847.66 L373.66 847.90 L374.62 848.39 L375.58 848.26 L376.54 848.82 L377.51 849.26 L378.48 849.20 L379.46 849.89 L380.43 849.55 L381.41 849.95 L382.39 850.00 L383.38 850.16 L384.36 850.24 L385.35 850.52 L386.33 850.77 L387.32 850.77 L388.31 851.08 L389.30 851.21 L390.30 851.34 L391.29 851.46 L392.28 851.57 L393.28 851.68 L394.27 851.78 L395.27 851.88 L396.26 851.97 L397.26 852.05 L398.26 852.14 L399.25 852.21 L400.25 852.29 L401.25 852.35 L402.25 852.42 L403.24 852.48 L404.24 852.54 L405.24 852.59 L406.24 852.65 L407.24 852.70 L408.24 852.74 L409.24 852.79 L410.24 852.83 L411.23 852.87 L412.23 852.90 L413.23 852.94 L414.23 852.97 L415.23 853.00 L416.23 853.03 L417.23 853.06 L418.23 853.09 L419.23 853.12 L420.23 853.14 L421.23 853.16 L422.23 853.18 L423.23 853.20 L424.23 853.22 L425.23 853.24 L426.23 853.26 L427.23 853.28 L428.23 853.29 L429.23 853.31 L430.23 853.32 L431.23 853.33 L432.23 853.35 L433.23 853.36 L434.23 853.37 L435.23 853.38 L436.23 853.39 L437.23 853.40 L438.23 853.41 L439.23 853.42 L440.23 853.43 L441.23 853.43 L442.23 853.44 L443.23 853.45 L444.23 853.46 L445.23 853.46 L446.23 853.47 L447.23 853.47 L448.23 853.48 L449.23 853.49 L450.23 853.49 L451.23 853.50 L452.23 853.50 L453.23 853.51 L454.23 853.51 L455.23 853.51 L456.23 853.52 L457.23 853.52 L458.23 853.52 L459.23 853.53 L460.23 853.53 L461.23 853.53 L462.23 853.54 L463.23 853.54 L464.23 853.54 L465.23 853.54 L466.23 853.55 L467.23 853.55 L468.23 853.55 L469.23 853.55 L470.23 853.56 L471.23 853.56 L472.23 853.56 L473.23 853.56 L474.23 853.56 L475.23 853.56 L476.23 853.57 L477.23 853.57 L478.23 853.57 L479.23 853.57 L480.23 853.57 L481.23 853.57 L482.23 853.57 L483.23 853.57 L484.23 853.58 L485.23 853.58 L486.23 853.58 L487.23 853.58 L488.23 853.58 L489.23 853.58 L490.23 853.58 L491.23 853.58 L492.23 853.58 L493.23 853.58 L494.23 853.58 L495.23 853.59 L496.23 853.59 L497.23 853.59 L498.23 853.59 L499.23 853.59 L500.23 853.59 L501.23 853.59 L502.23 853.59 L503.23 853.59 L504.23 853.59 L505.23 853.59 L506.23 853.59 L507.23 853.59 L508.23 853.59 L509.23 853.59 L510.23 853.59 L511.23 853.59 L512.23 853.59 L513.23 853.59 L514.23 853.59 L515.23 853.59 L516.23 853.59 L517.23 853.59 L518.23 853.59 L519.23 853.59 L520.23 853.59 L521.23 853.60 L522.23 853.60 L523.23 853.60 L524.23 853.60 L525.23 853.60 L526.23 853.60 L527.23 853.60 L528.23 853.60 L529.23 853.60 L530.23 853.60 L531.23 853.60 L532.23 853.60 L533.23 853.60 L534.23 853.60 L535.23 853.60 L536.23 853.60 L537.23 853.60 L538.23 853.60 L539.23 853.60 L540.23 853.60 L541.23 853.60 L542.23 853.60 L543.23 853.60 L544.23 853.60 L545.23 853.60 L546.23 853.60 L547.23 853.60 L548.23 853.60 L549.23 853.60 L550.23 853.60 L551.23 853.60 L552.23 853.60 L553.23 853.60 L554.23 853.60 L555.23 853.60 L556.23 853.60 L557.23 853.60 L558.23 853.60 L559.23 853.60 L560.23 853.60 L561.23 853.60 L562.23 853.60 L563.23 853.60 L564.23 853.60 L565.23 853.60 L566.23 853.60 L567.23 853.60 L568.23 853.60 L569.23 853.60 L570.23 853.60 L571.23 853.60 L572.23 853.60 L573.23 853.60 L574.23 853.60 L575.23 853.60 L576.23 853.60 L577.23 853.60 L578.23 853.60 L579.23 853.60 L580.23 853.60 L581.23 853.60 L582.23 853.60 L583.23 853.60 L584.23 853.60 L585.23 853.60 L586.23 853.60 L587.23 853.60 L588.23 853.60 L589.23 853.60 L590.23 853.60 L591.23 853.60 L592.23 853.60 L593.23 853.60 L594.23 853.60 L595.23 853.60 L596.23 853.60 L597.23 853.60 L598.23 853.60 L599.23 853.60 L600.23 853.60 L601.23 853.60 L602.23 853.60 L603.23 853.60 L604.23 853.60 L605.23 853.60 L606.23 853.60 L607.23 853.60 L608.23 853.60 L609.23 853.60 L610.23 853.60 L611.23 853.60 L612.23 853.60 L613.23 853.60 L614.23 853.60 L615.23 853.60 L616.23 853.60 L617.23 853.60 L618.23 853.60 L619.23 853.60 L620.23 853.60 L621.23 853.60 L622.23 853.60 L623.23 853.60 L624.23 853.60 L625.23 853.60 L626.23 853.60 L627.23 853.60 L628.23 853.60 L629.23 853.60 L630.23 853.60 L631.23 853.60 L632.23 853.60 L633.23 853.60 L634.23 853.60 L635.23 853.60 L636.23 853.60 L637.23 853.60 L638.23 853.60 L639.23 853.60 L640.23 853.60 L641.23 853.60 L642.23 853.60 L643.23 853.60 L644.23 853.60 L645.23 853.60 L646.23 853.60 L647.23 853.60 L648.23 853.60 L649.23 853.60 L650.23 853.60 L651.23 853.60 L652.23 853.60 L653.23 853.60 L654.23 853.60 L655.23 853.60 L656.23 853.60 L657.23 853.60 L658.23 853.60 L659.23 853.60 L660.23 853.60 L661.23 853.60 L662.23 853.60 L663.23 853.60 L664.23 853.60 L665.23 853.60 L666.23 853.60 L667.23 853.60 L668.23 853.60 L669.23 853.60 L670.23 853.60 L671.23 853.60 L672.23 853.60 L673.23 853.60 L674.23 853.60 L675.23 853.60 L676.23 853.60 L677.23 853.60 L678.23 853.60 L679.23 853.60 L680.23 853.60 L681.23 853.60 L682.23 853.60 L683.23 853.60 L684.23 853.60 L685.23 853.60 L686.22 853.60 L687.12 853.60 L687.65 853.60" fill="none" stroke="#4A88C4" stroke-width="2.7" stroke-linejoin="round"/>
<path d="M84.31 854.60 L85.04 854.60 L86.00 854.60 L87.00 854.59 L88.00 854.59 L89.00 854.59 L90.00 854.59 L91.00 854.59 L92.00 854.59 L93.00 854.60 L94.00 854.60 L95.00 854.60 L96.00 854.60 L97.00 854.60 L98.00 854.61 L99.00 854.61 L100.00 854.61 L101.00 854.61 L102.00 854.62 L103.00 854.62 L104.00 854.63 L105.00 854.63 L106.00 854.63 L107.00 854.64 L108.00 854.64 L109.00 854.64 L110.00 854.65 L111.00 854.65 L112.00 854.65 L113.00 854.66 L114.00 854.66 L115.00 854.66 L116.00 854.67 L117.00 854.67 L118.00 854.67 L119.00 854.68 L120.00 854.68 L121.00 854.68 L122.00 854.68 L123.00 854.68 L124.00 854.68 L125.00 854.68 L126.00 854.69 L127.00 854.68 L128.00 854.68 L129.00 854.68 L130.00 854.68 L131.00 854.68 L132.00 854.68 L133.00 854.67 L134.00 854.67 L135.00 854.66 L136.00 854.66 L137.00 854.65 L138.00 854.64 L139.00 854.63 L140.00 854.62 L141.00 854.61 L142.00 854.59 L143.00 854.58 L144.00 854.56 L145.00 854.54 L146.00 854.52 L147.00 854.49 L148.00 854.47 L149.00 854.43 L150.00 854.40 L151.00 854.36 L152.00 854.32 L152.99 854.27 L153.99 854.22 L154.99 854.16 L155.99 854.10 L156.99 854.04 L157.98 853.96 L158.98 853.89 L159.98 853.81 L160.97 853.72 L161.97 853.62 L162.96 853.52 L163.96 853.41 L164.95 853.31 L165.95 853.20 L166.94 853.09 L167.94 852.98 L168.93 852.85 L169.91 852.69 L170.89 852.49 L171.86 852.25 L172.82 851.96 L173.76 851.63 L174.69 851.27 L175.62 850.66 L176.52 850.75 L177.41 849.83 L178.29 849.23 L179.14 848.82 L179.97 848.49 L180.78 847.80 L181.55 847.32 L182.30 846.67 L183.03 845.95 L183.73 845.13 L184.42 844.81 L185.09 843.27 L185.75 842.61 L186.38 842.08 L186.98 841.13 L187.54 840.04 L188.05 839.54 L188.50 838.66 L188.89 837.40 L189.22 837.12 L189.49 836.24 L189.72 835.26 L189.92 833.93 L190.10 833.08 L190.26 831.84 L190.40 831.11 L190.52 829.94 L190.62 829.17 L190.70 828.02 L190.78 827.30 L190.85 826.26 L190.92 825.34 L190.99 823.78 L191.05 822.74 L191.11 822.18 L191.18 820.99 L191.25 820.19 L191.33 819.17 L191.42 818.15 L191.55 817.31 L191.75 816.26 L192.02 815.28 L192.30 814.05 L192.58 813.61 L192.85 812.33 L193.11 811.56 L193.37 810.44 L193.63 809.66 L193.89 808.47 L194.14 807.51 L194.39 806.53 L194.63 805.39 L194.87 804.45 L195.11 803.56 L195.35 802.60 L195.59 801.45 L195.82 801.15 L196.05 799.51 L196.28 798.67 L196.50 798.24 L196.72 796.65 L196.94 795.96 L197.16 794.96 L197.38 793.81 L197.59 792.59 L197.81 791.59 L198.02 790.92 L198.23 790.03 L198.44 788.53 L198.64 788.02 L198.85 786.88 L199.05 786.21 L199.25 785.08 L199.45 783.91 L199.65 783.00 L199.85 782.12 L200.04 781.40 L200.24 780.76 L200.43 779.24 L200.62 778.21 L200.81 777.35 L201.00 776.23 L201.19 775.38 L201.38 774.35 L201.56 773.29 L201.75 772.15 L201.93 771.36 L202.11 770.52 L202.30 769.38 L202.48 768.68 L202.66 767.58 L202.84 766.38 L203.02 765.77 L203.19 764.22 L203.37 763.69 L203.55 762.85 L203.72 761.44 L203.90 760.49 L204.07 759.71 L204.24 758.82 L204.41 757.64 L204.59 756.62 L204.76 755.77 L204.93 754.65 L205.10 753.37 L205.26 752.59 L205.43 751.64 L205.60 750.36 L205.77 749.75 L205.93 748.54 L206.10 747.85 L206.27 746.41 L206.43 745.54 L206.60 744.45 L206.76 744.01 L206.92 743.02 L207.09 742.07 L207.25 741.09 L207.41 739.99 L207.57 739.00 L207.73 737.49 L207.90 736.91 L208.06 735.76 L208.22 734.81 L208.38 733.64 L208.54 733.16 L208.70 731.94 L208.85 730.62 L209.01 730.04 L209.17 728.93 L209.33 727.75 L209.49 726.91 L209.64 725.82 L209.80 724.53 L209.96 723.69 L210.12 723.11 L210.27 722.09 L210.43 721.08 L210.59 719.80 L210.74 718.93 L210.90 718.07 L211.05 717.21 L211.21 715.92 L211.36 714.88 L211.52 714.34 L211.67 713.13 L211.83 712.06 L211.98 711.00 L212.14 710.03 L212.29 709.49 L212.45 708.37 L212.60 707.11 L212.76 705.95 L212.91 705.55 L213.07 704.54 L213.22 703.48 L213.38 702.42 L213.53 700.89 L213.69 700.02 L213.84 699.40 L213.99 698.24 L214.15 697.36 L214.30 696.22 L214.46 695.21 L214.61 694.46 L214.77 693.28 L214.92 692.37 L215.08 691.44 L215.23 690.44 L215.39 689.64 L215.54 688.70 L215.70 687.16 L215.85 686.39 L216.01 685.33 L216.16 684.62 L216.32 683.27 L216.48 682.65 L216.63 681.65 L216.79 680.63 L216.95 679.34 L217.10 678.50 L217.26 677.34 L217.42 676.65 L217.57 675.77 L217.73 674.29 L217.89 673.44 L218.05 672.59 L218.21 671.52 L218.37 670.94 L218.53 669.63 L218.68 668.72 L218.84 667.46 L219.01 667.00 L219.17 665.74 L219.33 664.88 L219.49 663.75 L219.65 662.32 L219.81 661.44 L219.97 660.52 L220.14 659.88 L220.30 658.70 L220.47 657.90 L220.63 656.89 L220.79 655.89 L220.96 655.04 L221.13 653.91 L221.29 652.56 L221.46 651.76 L221.63 651.24 L221.80 649.71 L221.96 649.21 L222.13 648.29 L222.30 646.85 L222.48 646.05 L222.65 644.72 L222.82 644.17 L222.99 642.87 L223.17 641.78 L223.34 640.98 L223.52 639.98 L223.69 638.97 L223.87 638.15 L224.05 637.09 L224.22 636.01 L224.40 635.34 L224.58 634.66 L224.76 633.20 L224.95 632.06 L225.13 631.02 L225.31 630.36 L225.50 629.20 L225.69 628.28 L225.87 626.89 L226.06 626.08 L226.25 625.09 L226.44 624.53 L226.63 623.31 L226.83 621.89 L227.02 621.50 L227.22 620.65 L227.42 619.70 L227.61 617.90 L227.82 617.51 L228.02 616.66 L228.22 615.64 L228.43 614.50 L228.63 613.21 L228.84 612.50 L229.05 611.55 L229.26 610.75 L229.48 609.78 L229.69 608.63 L229.91 607.87 L230.13 606.52 L230.35 605.62 L230.58 604.77 L230.80 603.92 L231.03 602.77 L231.26 602.10 L231.50 600.97 L231.74 599.72 L231.98 598.96 L232.22 597.80 L232.46 596.81 L232.71 595.75 L232.96 595.35 L233.22 594.28 L233.48 592.81 L233.74 592.39 L234.00 591.40 L234.28 590.17 L234.55 589.38 L234.83 588.77 L235.11 587.42 L235.40 586.49 L235.69 585.67 L235.99 584.29 L236.29 583.29 L236.60 582.31 L236.92 581.63 L237.24 580.87 L237.57 579.58 L237.91 578.53 L238.25 577.91 L238.60 576.86 L238.96 576.13 L239.34 575.05 L239.72 574.12 L240.11 573.22 L240.51 572.33 L240.93 571.22 L241.35 570.28 L241.80 569.93 L242.26 569.34 L242.73 568.07 L243.23 566.65 L243.74 566.12 L244.27 565.51 L244.83 564.12 L245.42 563.54 L246.03 562.76 L246.68 561.90 L247.35 561.18 L248.07 560.85 L248.81 559.90 L249.60 559.33 L250.43 559.15 L251.29 558.14 L252.19 557.49 L253.11 557.63 L254.06 557.60 L255.03 557.01 L256.02 556.85 L257.01 556.41 L258.01 556.41 L259.01 556.85 L260.01 556.79 L261.00 556.69 L261.99 556.56 L262.95 556.71 L263.87 557.12 L264.74 557.58 L265.56 558.50 L266.33 558.85 L267.06 559.59 L267.74 560.56 L268.40 561.31 L269.01 561.97 L269.60 562.86 L270.17 563.59 L270.71 564.04 L271.22 565.27 L271.72 566.07 L272.21 566.95 L272.67 567.96 L273.12 568.69 L273.56 569.95 L273.99 570.57 L274.40 571.55 L274.81 572.49 L275.20 573.31 L275.59 574.40 L275.97 575.35 L276.34 576.25 L276.70 576.91 L277.06 577.81 L277.40 578.81 L277.75 579.87 L278.08 580.43 L278.42 581.58 L278.74 582.46 L279.06 583.51 L279.38 584.40 L279.69 585.70 L280.00 586.58 L280.31 587.63 L280.61 588.20 L280.90 589.20 L281.20 590.25 L281.49 591.60 L281.77 592.56 L282.06 593.06 L282.34 594.27 L282.61 595.53 L282.89 595.86 L283.16 596.99 L283.43 598.25 L283.70 599.10 L283.97 599.72 L284.23 601.19 L284.49 602.05 L284.75 602.95 L285.01 603.53 L285.26 604.72 L285.51 605.98 L285.77 606.78 L286.02 607.81 L286.26 608.57 L286.51 609.89 L286.76 610.51 L287.00 611.71 L287.24 612.56 L287.48 613.28 L287.72 614.74 L287.96 615.16 L288.20 616.24 L288.43 617.38 L288.67 618.05 L288.90 618.94 L289.13 620.25 L289.36 621.16 L289.59 622.16 L289.82 623.29 L290.05 624.62 L290.28 625.05 L290.51 626.60 L290.73 627.13 L290.96 628.04 L291.18 628.49 L291.40 629.70 L291.63 631.04 L291.85 632.07 L292.07 632.77 L292.29 633.97 L292.51 635.06 L292.73 635.74 L292.95 636.51 L293.16 637.61 L293.38 638.72 L293.60 639.82 L293.81 640.89 L294.03 641.53 L294.25 642.70 L294.46 643.61 L294.67 644.65 L294.89 645.84 L295.10 646.86 L295.31 647.48 L295.53 648.43 L295.74 649.39 L295.95 650.40 L296.16 651.40 L296.38 652.43 L296.59 653.34 L296.80 654.20 L297.01 655.16 L297.22 656.38 L297.43 657.84 L297.64 658.44 L297.85 659.43 L298.06 660.35 L298.27 661.23 L298.48 662.64 L298.69 663.15 L298.89 664.00 L299.10 664.93 L299.31 666.19 L299.52 666.93 L299.73 667.93 L299.94 668.91 L300.15 669.80 L300.36 671.07 L300.56 671.68 L300.77 673.45 L300.98 673.42 L301.19 674.67 L301.40 675.94 L301.61 676.99 L301.82 677.82 L302.02 678.92 L302.23 679.88 L302.44 680.85 L302.65 681.92 L302.86 682.83 L303.07 683.74 L303.28 684.71 L303.49 685.89 L303.70 686.66 L303.91 687.79 L304.12 688.97 L304.33 689.70 L304.54 690.85 L304.75 691.50 L304.96 692.62 L305.17 693.64 L305.38 694.56 L305.60 695.59 L305.81 696.75 L306.02 697.38 L306.23 698.29 L306.45 699.47 L306.66 700.09 L306.87 701.35 L307.09 702.57 L307.30 703.31 L307.52 704.39 L307.73 705.34 L307.95 706.48 L308.17 707.31 L308.38 708.23 L308.60 708.50 L308.82 710.04 L309.04 711.26 L309.25 712.06 L309.47 712.92 L309.69 714.22 L309.91 714.84 L310.13 715.92 L310.36 717.10 L310.58 717.84 L310.80 718.95 L311.02 719.88 L311.25 720.62 L311.47 721.73 L311.70 722.74 L311.92 723.65 L312.15 724.97 L312.38 725.72 L312.61 726.57 L312.84 727.40 L313.07 728.58 L313.30 729.88 L313.53 730.53 L313.76 731.72 L313.99 732.63 L314.23 733.41 L314.46 734.29 L314.70 735.56 L314.93 736.09 L315.17 737.51 L315.41 738.13 L315.65 739.51 L315.89 740.23 L316.13 741.26 L316.37 742.46 L316.62 743.02 L316.86 744.20 L317.11 745.10 L317.36 746.23 L317.60 747.24 L317.85 748.13 L318.10 749.08 L318.36 749.92 L318.61 751.09 L318.86 751.89 L319.12 752.93 L319.38 753.91 L319.64 754.57 L319.90 755.58 L320.16 756.81 L320.42 757.73 L320.68 758.95 L320.95 759.18 L321.22 760.67 L321.49 761.81 L321.76 762.57 L322.03 763.67 L322.31 764.48 L322.58 765.43 L322.86 766.58 L323.14 767.10 L323.42 767.87 L323.71 769.37 L323.99 770.26 L324.28 771.22 L324.57 772.21 L324.86 773.23 L325.15 773.97 L325.45 775.11 L325.75 776.04 L326.05 776.70 L326.35 777.85 L326.66 778.89 L326.97 779.63 L327.28 780.94 L327.59 781.63 L327.91 782.79 L328.22 783.87 L328.55 784.24 L328.87 785.21 L329.20 786.54 L329.53 787.33 L329.86 788.41 L330.20 789.59 L330.54 790.09 L330.88 791.30 L331.23 792.02 L331.58 792.88 L331.93 794.04 L332.29 794.93 L332.65 796.02 L333.01 796.80 L333.38 797.84 L333.75 798.70 L334.13 799.18 L334.51 800.38 L334.90 801.31 L335.29 802.47 L335.69 803.00 L336.09 804.16 L336.49 804.96 L336.90 805.59 L337.32 806.83 L337.74 807.90 L338.16 808.60 L338.60 809.76 L339.03 810.55 L339.48 811.43 L339.93 812.16 L340.39 813.12 L340.85 814.13 L341.32 814.93 L341.80 815.55 L342.28 816.64 L342.77 817.62 L343.27 818.64 L343.78 819.44 L344.30 819.93 L344.82 821.12 L345.35 821.51 L345.89 822.54 L346.45 823.34 L347.00 824.64 L347.57 825.29 L348.15 826.03 L348.74 826.65 L349.34 827.83 L349.95 828.32 L350.57 829.25 L351.20 830.15 L351.84 830.64 L352.50 831.56 L353.16 831.81 L353.84 833.05 L354.53 833.33 L355.23 834.46 L355.94 835.14 L356.66 835.87 L357.40 836.91 L358.15 836.61 L358.91 837.85 L359.68 838.31 L360.47 839.16 L361.26 839.68 L362.07 840.23 L362.89 840.68 L363.72 841.20 L364.56 841.95 L365.41 842.10 L366.27 843.13 L367.14 843.29 L368.03 843.97 L368.91 844.10 L369.81 844.87 L370.72 845.15 L371.63 845.76 L372.55 846.24 L373.48 846.26 L374.41 846.75 L375.35 847.12 L376.30 847.69 L377.24 847.46 L378.20 848.14 L379.16 848.30 L380.12 848.34 L381.08 848.77 L382.05 848.95 L383.02 849.55 L384.00 849.36 L384.97 849.97 L385.95 849.88 L386.93 850.30 L387.92 850.01 L388.90 850.38 L389.89 850.73 L390.87 850.67 L391.86 851.00 L392.85 851.15 L393.84 851.28 L394.83 851.42 L395.82 851.54 L396.82 851.66 L397.81 851.78 L398.80 851.88 L399.80 851.99 L400.79 852.09 L401.79 852.18 L402.79 852.27 L403.78 852.36 L404.78 852.44 L405.78 852.52 L406.77 852.59 L407.77 852.67 L408.77 852.74 L409.77 852.80 L410.76 852.86 L411.76 852.93 L412.76 852.98 L413.76 853.04 L414.76 853.09 L415.76 853.15 L416.75 853.19 L417.75 853.24 L418.75 853.29 L419.75 853.33 L420.75 853.37 L421.75 853.41 L422.75 853.45 L423.75 853.49 L424.75 853.53 L425.75 853.56 L426.75 853.60 L427.75 853.63 L428.75 853.66 L429.74 853.69 L430.74 853.72 L431.74 853.75 L432.74 853.78 L433.74 853.80 L434.74 853.83 L435.74 853.85 L436.74 853.88 L437.74 853.90 L438.74 853.92 L439.74 853.94 L440.74 853.96 L441.74 853.98 L442.74 854.00 L443.74 854.02 L444.74 854.04 L445.74 854.06 L446.74 854.07 L447.74 854.09 L448.74 854.11 L449.74 854.12 L450.74 854.14 L451.74 854.15 L452.74 854.17 L453.74 854.18 L454.74 854.19 L455.74 854.21 L456.74 854.22 L457.74 854.23 L458.74 854.24 L459.74 854.25 L460.74 854.26 L461.74 854.27 L462.74 854.28 L463.74 854.29 L464.74 854.30 L465.74 854.31 L466.74 854.32 L467.74 854.33 L468.74 854.34 L469.74 854.35 L470.74 854.35 L471.74 854.36 L472.74 854.37 L473.74 854.38 L474.74 854.38 L475.74 854.39 L476.74 854.40 L477.74 854.40 L478.74 854.41 L479.74 854.41 L480.74 854.42 L481.74 854.43 L482.74 854.43 L483.74 854.44 L484.74 854.44 L485.74 854.45 L486.74 854.45 L487.74 854.46 L488.74 854.46 L489.74 854.46 L490.74 854.47 L491.74 854.47 L492.74 854.48 L493.74 854.48 L494.74 854.48 L495.74 854.49 L496.74 854.49 L497.74 854.49 L498.74 854.50 L499.74 854.50 L500.74 854.50 L501.74 854.51 L502.74 854.51 L503.74 854.51 L504.74 854.52 L505.74 854.52 L506.74 854.52 L507.74 854.52 L508.74 854.53 L509.74 854.53 L510.74 854.53 L511.74 854.53 L512.74 854.53 L513.74 854.54 L514.74 854.54 L515.74 854.54 L516.74 854.54 L517.74 854.54 L518.74 854.55 L519.74 854.55 L520.74 854.55 L521.74 854.55 L522.74 854.55 L523.74 854.55 L524.74 854.56 L525.74 854.56 L526.74 854.56 L527.74 854.56 L528.74 854.56 L529.74 854.56 L530.74 854.56 L531.74 854.56 L532.74 854.57 L533.74 854.57 L534.74 854.57 L535.74 854.57 L536.74 854.57 L537.74 854.57 L538.74 854.57 L539.74 854.57 L540.74 854.57 L541.74 854.57 L542.74 854.57 L543.74 854.58 L544.74 854.58 L545.74 854.58 L546.74 854.58 L547.74 854.58 L548.74 854.58 L549.74 854.58 L550.74 854.58 L551.74 854.58 L552.74 854.58 L553.74 854.58 L554.74 854.58 L555.74 854.58 L556.74 854.58 L557.74 854.58 L558.74 854.58 L559.74 854.59 L560.74 854.59 L561.74 854.59 L562.74 854.59 L563.74 854.59 L564.74 854.59 L565.74 854.59 L566.74 854.59 L567.74 854.59 L568.74 854.59 L569.74 854.59 L570.74 854.59 L571.74 854.59 L572.74 854.59 L573.74 854.59 L574.74 854.59 L575.74 854.59 L576.74 854.59 L577.74 854.59 L578.74 854.59 L579.74 854.59 L580.74 854.59 L581.74 854.59 L582.74 854.59 L583.74 854.59 L584.74 854.59 L585.74 854.59 L586.74 854.59 L587.74 854.59 L588.74 854.59 L589.74 854.59 L590.74 854.59 L591.74 854.59 L592.74 854.59 L593.74 854.59 L594.74 854.60 L595.74 854.60 L596.74 854.60 L597.74 854.60 L598.74 854.60 L599.74 854.60 L600.74 854.60 L601.74 854.60 L602.74 854.60 L603.74 854.60 L604.74 854.60 L605.74 854.60 L606.74 854.60 L607.74 854.60 L608.74 854.60 L609.74 854.60 L610.74 854.60 L611.74 854.60 L612.74 854.60 L613.74 854.60 L614.74 854.60 L615.74 854.60 L616.74 854.60 L617.74 854.60 L618.74 854.60 L619.74 854.60 L620.74 854.60 L621.74 854.60 L622.74 854.60 L623.74 854.60 L624.74 854.60 L625.74 854.60 L626.74 854.60 L627.74 854.60 L628.74 854.60 L629.74 854.60 L630.74 854.60 L631.74 854.60 L632.74 854.60 L633.74 854.60 L634.74 854.60 L635.74 854.60 L636.74 854.60 L637.74 854.60 L638.74 854.60 L639.74 854.60 L640.74 854.60 L641.74 854.60 L642.74 854.60 L643.74 854.60 L644.74 854.60 L645.74 854.60 L646.74 854.60 L647.74 854.60 L648.74 854.60 L649.74 854.60 L650.74 854.60 L651.74 854.60 L652.74 854.60 L653.74 854.60 L654.74 854.60 L655.74 854.60 L656.74 854.60 L657.74 854.60 L658.74 854.60 L659.74 854.60 L660.74 854.60 L661.74 854.60 L662.74 854.60 L663.74 854.60 L664.74 854.60 L665.74 854.60 L666.74 854.60 L667.74 854.60 L668.74 854.60 L669.74 854.60 L670.74 854.60 L671.74 854.60 L672.74 854.60 L673.74 854.60 L674.74 854.60 L675.74 854.60 L676.74 854.60 L677.74 854.60 L678.74 854.60 L679.74 854.60 L680.74 854.60 L681.74 854.60 L682.74 854.60 L683.74 854.60 L684.74 854.60 L685.74 854.60 L686.68 854.60 L687.34 854.60" fill="none" stroke="#5E9E3C" stroke-width="2.7" stroke-linejoin="round"/>
<text x="362.80" y="926.70" font-size="21.50" text-anchor="middle" textLength="162.5" lengthAdjust="spacingAndGlyphs">Wavelength (nm)</text>
<text transform="translate(15.3 694.6) rotate(-90)" x="0" y="0" font-size="21" text-anchor="middle" textLength="288" lengthAdjust="spacingAndGlyphs">Fluorescence Intensity (c.p.s.)</text>
<text x="677.40" y="553.40" font-size="22.50" text-anchor="start" textLength="27.5" lengthAdjust="spacingAndGlyphs">(b)</text>
<line x1="79.00" y1="955.60" x2="114.50" y2="955.60" stroke="#3A63B3" stroke-width="2.5" stroke-linecap="round"/>
<text x="118.60" y="960.80" font-size="18.00" text-anchor="start" textLength="46.7" lengthAdjust="spacingAndGlyphs">Blank</text>
<line x1="279.40" y1="955.60" x2="313.80" y2="955.60" stroke="#DB6D25" stroke-width="2.5" stroke-linecap="round"/>
<text x="317.40" y="960.30" font-size="18.00" text-anchor="start" textLength="99.5" lengthAdjust="spacingAndGlyphs">0.01 ug/mL</text>
<line x1="479.70" y1="955.60" x2="513.00" y2="955.60" stroke="#979797" stroke-width="2.5" stroke-linecap="round"/>
<text x="517.20" y="960.50" font-size="18.00" text-anchor="start" textLength="110.9" lengthAdjust="spacingAndGlyphs">0.025 ug/mL</text>
<line x1="79.00" y1="985.50" x2="114.50" y2="985.50" stroke="#E2A500" stroke-width="2.5" stroke-linecap="round"/>
<text x="117.70" y="990.60" font-size="18.00" text-anchor="start" textLength="99.2" lengthAdjust="spacingAndGlyphs">0.05 ug/mL</text>
<line x1="279.40" y1="985.50" x2="313.80" y2="985.50" stroke="#4A88C4" stroke-width="2.5" stroke-linecap="round"/>
<text x="317.40" y="990.40" font-size="18.00" text-anchor="start" textLength="110.6" lengthAdjust="spacingAndGlyphs">0.075 ug/mL</text>
<line x1="479.70" y1="985.50" x2="513.00" y2="985.50" stroke="#5E9E3C" stroke-width="2.5" stroke-linecap="round"/>
<text x="517.20" y="990.00" font-size="18.00" text-anchor="start" textLength="89.0" lengthAdjust="spacingAndGlyphs">0.1 ug/mL</text>
</svg>
</body></html>
